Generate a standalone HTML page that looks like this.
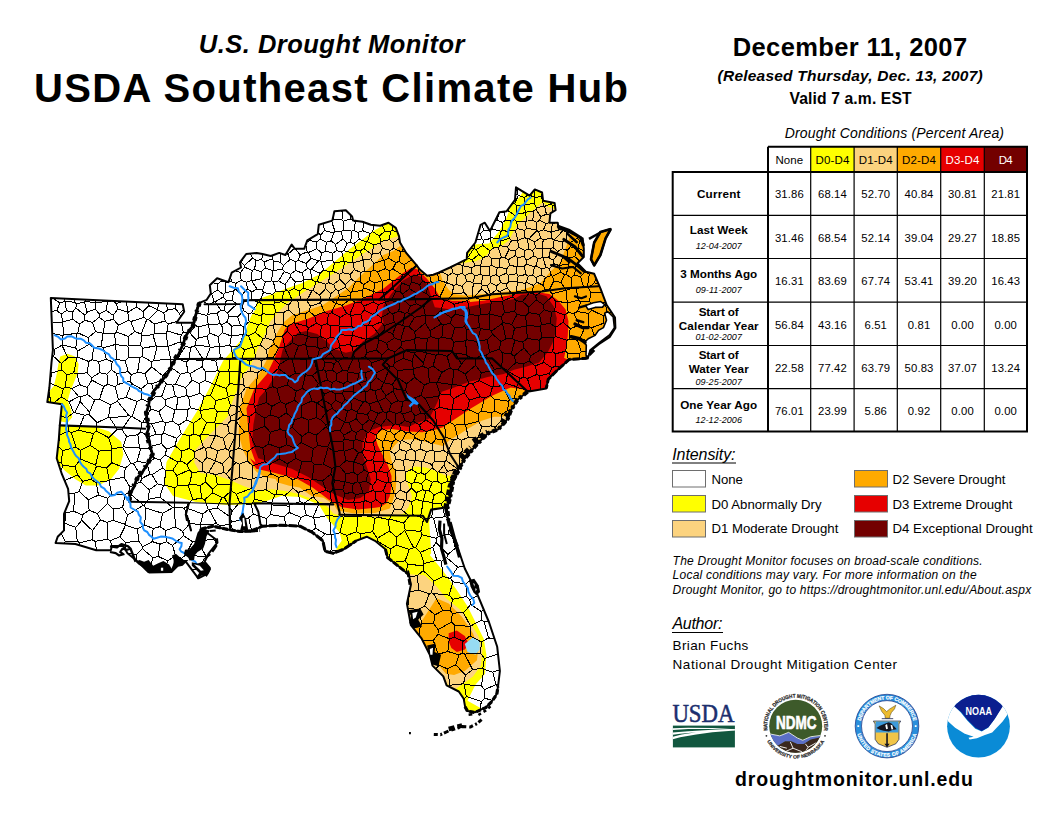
<!DOCTYPE html><html><head><meta charset="utf-8"><title>U.S. Drought Monitor - USDA Southeast Climate Hub</title>
<style>html,body{margin:0;padding:0;background:#fff;overflow:hidden}svg{display:block}text{font-family:"Liberation Sans",sans-serif;fill:#000}.b{font-weight:bold}.i{font-style:italic}</style></head><body>
<svg width="1056" height="816" viewBox="0 0 1056 816">
<rect width="1056" height="816" fill="#fff"/>
<defs><clipPath id="reg"><path d="M50.8 297.9 L182.7 304.2 L184.2 311.7 L176.5 322.7 L194.2 322.7 L196.2 313.3 L199.4 302.9 L206.7 299.8 L210.8 293.5 L209.8 285.2 L217.1 278.3 L228.5 282.1 L231.7 272.7 L241 267.5 L240 262.3 L246.2 254 L256.7 252.9 L262.5 254 L270.8 256 L279.2 252.9 L285.4 255 L291.7 244.6 L294.8 248.8 L304.2 248.8 L307.3 240.4 L317.7 234.2 L318.8 224.8 L332.3 220.6 L334.4 211.2 L345.8 210.2 L352.1 216.5 L353.1 220.6 L362.5 221.7 L370.8 224.8 L380.2 225.8 L388.5 222.7 L395.8 227.9 L399 236.2 L400 242.5 L406.2 252.9 L416.7 265.4 L419.8 269.6 L427.1 275.8 L433.3 274.8 L438.5 272.7 L450 267.5 L458.3 263.3 L466.7 259.2 L467.1 252.9 L475.4 242.5 L480.6 224.8 L484.8 222.7 L490 231 L499.4 212.3 L506.7 211.2 L515 199.8 L516 187.3 L529.6 195.6 L534.8 189.4 L542.1 192.5 L543.1 200.8 L554.6 202.9 L555.6 210.2 L550.4 213.3 L549.4 222.7 L557.7 222.7 L558.8 229 L565 230 L575.4 235.2 L582.7 238.3 L583.8 248.8 L583.8 257.1 L577.5 263.3 L585.8 271.7 L594.2 273.8 L600.4 288.3 L606.7 305 L615 317.5 L615.4 327.9 L609.9 336.8 L598.8 344.2 L589.6 351.5 L587.8 358.5 L569.2 359.4 L556.7 370.8 L548.3 379.2 L546.2 388.5 L527.5 391.7 L517.1 400 L510.8 410.4 L507.7 418.8 L498.3 429.2 L487.9 433.3 L475.4 445.8 L465 458.3 L458.8 468.8 L453.5 479.2 L450.4 495.8 L447.3 508.3 L445.8 507.5 L450 528.3 L458.3 549.2 L464.8 568.5 L475.6 590.1 L489.1 622.5 L497.2 646.8 L499.9 671 L498 686.6 L496.8 693.9 L491.9 701.3 L485.8 707.4 L474.8 712.3 L467.4 711.1 L465 706.2 L463.7 698.8 L458.8 691.5 L446.6 685.3 L443.3 676.4 L432.5 665.6 L429.8 654.8 L421.7 638.7 L410.9 625.2 L406.9 603.6 L410.9 584.7 L408.2 571.2 L408.3 574.2 L397.9 565.8 L387.5 557.5 L385.4 549.2 L375 540.8 L366.7 536.7 L356.2 540.8 L343.8 549.2 L333.3 553.3 L325 551.2 L322.9 540.8 L312.5 532.5 L300 526.2 L281.2 525.2 L262.5 526.2 L250 531.5 L240 531.5 L227.5 529.4 L212.9 526.2 L200.4 529.4 L206.7 532.5 L215 538.8 L217.1 542.9 L208.8 553.3 L204.6 561.7 L209.8 567.9 L206.7 574.2 L198.3 578.3 L185.8 561.7 L175.4 561.7 L171.2 572.1 L148.3 572.1 L137.9 561.7 L127.5 553.3 L123.3 546 L111.9 546 L110.8 550.2 L96.2 550.2 L75.4 544 L55.6 542.9 L57.7 536.7 L64 530.4 L64 513.8 L69.2 501.2 L68.1 488.8 L61.9 474.2 L56.7 458.3 L58.8 439.6 L59.8 425.4 L61.9 404.2 L47.3 402.1 L49.4 387.5 L51.5 362.5 L52.9 350Z M610.8 229 L600.4 232.1 L594.2 242.5 L591 259.2 L594.2 265.4 L600.4 255 L605.6 238.3Z"/></clipPath></defs>
<g clip-path="url(#reg)">
<rect x="30" y="170" width="620" height="580" fill="#fff"/>
<path d="M60.2 356.5 L67.6 353.8 L74.9 356.5 L78.6 363.9 L77.7 373.1 L74 382.3 L70.3 391.5 L67.6 400.7 L71.2 409.9 L72.2 417.2 L67.6 422.7 L58.4 420.9 L58.4 404.3 L46.4 403.4 L47.4 393.3 L53.8 386 L56.5 374.9 L58.4 363.9Z" fill="#FFFF00"/>
<path d="M54.6 426 L92.1 426 L108.8 431.2 L121.2 441.7 L123.3 454.2 L119.2 468.8 L110.8 479.2 L98.3 485.4 L85.8 485.4 L75.4 479.2 L65 470.8 L52.5 458.3 L52.5 439.6Z" fill="#FFFF00"/>
<path d="M388.5 222.7 L375 230 L350 248.8 L320 273.9 L302.3 283 L286.4 288.6 L268.2 295.5 L256.8 300 L255.7 309.1 L251.1 315.9 L247.7 325 L244.3 336.4 L236 346 L223 361 L209.5 388 L196.5 412 L181 437 L166.5 462 L164 483 L173 496 L196 502 L227.5 505 L250 504.4 L256.2 504.4 L281.2 496 L300 497 L318.8 504.4 L327 518 L339.6 532.5 L341.7 540.8 L336.5 548 L336 570 L400 730 L520 730 L467.5 700.7 L475.6 684.5 L485.1 673.7 L486.4 654.8 L483.7 638.7 L477 625.2 L467.5 606.3 L456.8 590.1 L443.3 571.2 L429.8 555.1 L431.2 553.3 L429.2 522.1 L431.2 509.6 L470 505 L640 400 L640 180 L500 180 L440 200 L395 215Z" fill="#FFFF00"/>
<path d="M514 186 L522.5 192.8 L517 200.3 L512 202.5Z" fill="#fff"/>
<path d="M473.3 244.6 L489 243.5 L499.4 231 L506.7 217.5 L511.9 202.9 L502.5 200.8 L481.7 217.5 L471.2 240.4Z" fill="#fff"/>
<path d="M399 236 L383.3 240.4 L358.3 257 L333.3 273.8 L306.2 290.4 L287.5 303 L277 313.3 L270 322 L267 330 L263.1 337.8 L257.3 349.6 L253.3 359.4 L249.4 367.3 L244.5 373.1 L239.6 381 L237.6 388.8 L233.7 398.6 L229.8 408.4 L228 416 L221.2 422.9 L206.7 437.5 L195.2 450 L194.2 462.5 L200.4 472.9 L217.2 475.5 L230.9 480.6 L242.9 485.8 L256.6 490.9 L272 489.2 L285.8 490.9 L299.5 494.3 L313.2 499.5 L323.5 503 L330.4 509.8 L333.3 513.5 L345 517 L383 517 L398 515 L403.5 513.8 L408.6 506.9 L412 496.6 L408.6 486.3 L405.2 476 L408.6 469.2 L415.5 466.6 L425.8 467.5 L436 470.9 L446.3 476 L458.3 474 L640 440 L640 180 L556.7 209.2 L548.3 207.1 L543.1 201.9 L537.9 206 L531.7 211.2 L523.3 219.6 L517.1 224.8 L508.8 240.4 L500.4 246.7 L492.1 248.8 L484.8 257.1 L475.4 261.2 L460.8 263.3 L440 250 L410 250Z" fill="#FCD37F"/>
<path d="M405.5 573.9 L424.4 575.3 L435.2 584.7 L446 598.2 L459.4 609 L470.2 622.5 L478.3 636 L482.4 649.4 L481 665.6 L472.9 676.4 L462.1 684.5 L454.1 689.9 L432.5 671 L397.4 627.9Z" fill="#FCD37F"/>
<path d="M400 246 L393.8 250.8 L383.3 255 L358.3 277.9 L348 288.3 L323 305 L291.7 315.4 L284 322 L278.8 330 L269 349.6 L267 359.4 L259.2 374.1 L246.5 388.8 L239.6 408.4 L239.5 417.2 L238.6 434.3 L242.9 449.7 L249.7 463.5 L256.6 472 L265.2 477.2 L275.5 478.9 L277.2 482.3 L289.2 485.8 L299.5 487.5 L311.5 496 L323.5 497.8 L333.8 504.6 L337.5 510.4 L354.2 513.5 L375 512.9 L389.7 508.6 L393.2 500 L395.7 489.8 L396.6 477.8 L394.9 469.2 L391.5 460.6 L389.7 452 L394.9 445.2 L400 440 L412 439.2 L422.3 440.9 L432.6 443.5 L442.9 446 L449.8 440 L458.4 434.9 L467.1 429.2 L481.7 420.8 L494.2 416.7 L502.5 416.7 L515 412.5 L640 420 L640 225 L577 228 L571 234 L566 247 L560 263 L551 271 L540 283.5 L523.3 289.4 L492.1 293.5 L465 295.6 L454 294 L449 289.9 L442.9 281.3 L440.5 273.9 L438 268 L410 255Z" fill="#FFAA00"/>
<path d="M436.5 598.2 L448.7 603.6 L462.1 617.1 L472.9 633.3 L478.3 646.8 L477 660.2 L464.8 671 L454.1 675.1 L446 673.7 L410.9 633.3 L419 625.2Z" fill="#FFAA00"/>
<path d="M610.8 229 L600.4 232.1 L594.2 242.5 L591 259.2 L594.2 265.4 L600.4 255 L605.6 238.3Z" fill="#FFAA00"/>
<path d="M273.9 359.4 L278.3 349.6 L284.7 330 L288.9 324.4 L307.9 318.7 L326.8 311.1 L345.8 305.5 L364.7 297.9 L383.6 288.4 L402.6 273.3 L412 267.6 L417.7 269.5 L427.2 278.9 L434.8 288.4 L440.5 297.9 L451.8 300.7 L470 300.7 L470 302 L484.7 300.6 L503.8 296.2 L521.5 293.2 L539.1 292.5 L549.4 294 L558.2 300.6 L565.6 309.4 L568.5 321.2 L567.8 335.9 L565.6 350.6 L564.1 358 L565 358.3 L573.3 362.5 L560.8 375 L552.5 391.7 L529.6 394.8 L523.3 389.6 L510.8 387.5 L492.1 395.8 L471.2 408.3 L463.5 413.4 L453.2 420.3 L442.9 427.2 L432.6 430.6 L422.3 432.3 L408.6 431.5 L391.5 428.9 L379.5 430.6 L375.2 436.6 L377.7 445.2 L382.9 455.5 L388 465.8 L391.5 476 L391.5 486.3 L389.7 496.6 L386.3 503.5 L380 507 L375 507.7 L358.3 509.4 L341.7 507.3 L329.2 500 L312.5 487.5 L297.9 479.2 L275 472.9 L256.2 468.8 L250 458.3 L255.6 462.5 L250.4 447.9 L248.3 429.2 L246.5 408.4 L254.3 388.8 L267 374Z" fill="#E60000"/>
<path d="M448.7 633.3 L456.8 630.6 L464.8 636 L468.9 644.1 L464.8 649.4 L456.8 652.1 L451.4 648.1 L448.7 641.4Z" fill="#E60000"/>
<path d="M253.4 424.5 L256.3 408.4 L259.2 397.6 L267 388.8 L272.9 379 L277.8 371.2 L280.3 359.4 L282.7 349.6 L288.6 342.7 L297.5 333 L306 331 L317.3 333.9 L326.8 341.4 L334.4 349 L345.8 352.8 L353.3 350.9 L362.8 341.4 L374.2 333.9 L383.6 322.5 L381.7 316.8 L383.6 305.5 L391.2 294.1 L402.6 280.8 L413.9 274.2 L421.5 277 L427.2 284.6 L431 296 L434.8 307.3 L449.9 309.2 L460 309 L470 306.5 L484.7 303.5 L503.8 300.6 L514.1 299.1 L521.5 294.7 L539.1 294 L546.5 296.2 L553.8 306.5 L556.8 318.2 L555.3 332.9 L552.4 343.2 L547.9 352.1 L539.1 362.4 L525.9 366.8 L514.1 369.7 L503.8 374.1 L487.6 377.1 L477.4 380 L470 381.5 L454.2 387.5 L441.7 391.7 L437.5 402.1 L429.2 418.8 L416.7 422.9 L408.3 427.1 L395.8 425 L379.2 427.1 L368.8 431.2 L362.5 441.7 L362.5 454.2 L366.7 466.7 L370.8 479.2 L368.8 491.7 L360.4 497.9 L347.9 500 L333.3 493.8 L320.8 485.4 L308.3 477.1 L291.7 468.8 L270.8 462.5 L258.3 458.3 L252.1 441.7Z" fill="#730000"/>
<path d="M464.8 644.1 L472.9 637.3 L479.7 641.4 L479.7 649.4 L475.6 654.8 L467.5 652.1Z" fill="#97DBF2"/>
<path d="M403.4 358.5L404.4 350.3M403.4 358.5L394.8 362.5M394.8 362.5L394.7 351.9M394.7 351.9L400.9 346.8M400.9 346.8L404.4 350.3M249.5 432.3L264.8 426.2M249.5 432.3L255.3 446.0M255.3 446.0L262.8 447.7M268.6 444.0L262.8 447.7M268.6 444.0L270.3 432.1M264.8 426.2L270.3 432.1M249.5 432.3L248.5 431.7M248.5 431.7L249.4 416.5M249.4 416.5L255.3 412.1M255.3 412.1L264.9 418.3M264.8 426.2L264.9 418.3M183.2 332.3L189.6 332.8M183.2 332.3L181.4 323.0M189.6 332.8L195.5 325.7M194.0 323.0L195.5 325.7M189.6 332.8L196.2 339.8M198.8 337.7L196.2 339.8M198.8 337.7L198.9 326.8M198.9 326.8L195.5 325.7M180.6 316.4L179.6 313.4M179.6 313.4L183.5 309.5M166.2 303.7L167.8 310.1M175.6 304.2L174.9 308.5M174.9 308.5L167.8 310.1M179.6 313.4L174.9 308.5M158.7 303.5L158.8 303.4M158.7 303.5L158.5 303.3M271.9 406.4L280.6 401.6M271.9 406.4L270.0 414.9M270.0 414.9L278.9 417.6M278.9 417.6L286.4 412.9M286.4 412.9L285.7 404.4M280.6 401.6L285.7 404.4M254.9 406.5L255.3 412.1M254.9 406.5L266.5 402.4M266.5 402.4L271.9 406.4M264.9 418.3L270.0 414.9M280.1 429.3L278.9 417.6M280.1 429.3L270.3 432.1M249.4 416.5L243.4 415.2M254.9 406.5L253.8 404.8M239.6 406.5L243.2 403.0M239.6 406.5L240.8 410.6M240.8 410.6L243.4 415.2M253.8 404.8L243.2 403.0M196.6 313.0L206.9 315.4M198.9 326.8L208.3 324.5M208.3 324.5L206.9 315.4M203.5 359.7L206.1 358.6M203.5 359.7L194.5 345.9M206.1 358.6L210.2 347.4M194.5 345.9L195.2 345.0M195.2 345.0L209.5 346.6M210.2 347.4L209.5 346.6M195.2 345.0L196.2 339.8M198.8 337.7L207.3 336.2M209.5 346.6L207.3 336.2M215.8 361.3L206.1 358.6M215.8 361.3L220.2 357.3M219.5 346.4L210.2 347.4M219.5 346.4L219.6 346.5M220.2 357.3L219.6 346.5M218.2 370.8L215.8 361.3M218.2 370.8L219.3 371.9M219.3 371.9L228.8 371.7M228.8 371.7L229.7 359.9M220.2 357.3L229.7 359.9M127.9 312.3L126.4 301.8M127.9 312.3L136.7 306.8M136.9 302.3L136.7 306.8M438.5 280.4L435.0 283.4M438.5 280.4L446.7 282.6M435.0 283.4L436.2 295.5M446.8 282.7L446.7 282.6M446.8 282.7L439.9 296.8M439.9 296.8L436.2 295.5M429.8 275.7L430.7 281.7M430.7 281.7L435.0 283.4M437.2 273.5L437.8 273.9M437.8 273.9L438.5 280.4M448.2 275.5L446.7 282.6M448.2 275.5L442.7 272.0M442.7 272.0L437.8 273.9M442.7 272.0L443.0 271.0M424.3 273.8L421.3 275.1M430.7 281.7L428.0 282.9M421.3 275.1L422.2 281.4M428.0 282.9L422.2 281.4M301.7 405.5L294.4 400.2M301.7 405.5L312.0 400.9M294.4 400.2L296.1 391.2M296.1 391.2L302.3 388.3M302.3 388.3L309.0 392.3M309.0 392.3L312.0 400.9M394.8 362.5L393.0 366.1M394.7 351.9L388.3 349.1M390.2 366.2L393.0 366.1M390.2 366.2L389.8 366.1M381.7 354.9L388.3 349.1M381.7 354.9L382.0 359.2M389.8 366.1L382.0 359.2M381.7 354.9L376.6 350.0M388.3 349.1L386.6 343.1M386.6 343.1L379.0 339.9M376.6 350.0L379.0 339.9M365.0 356.6L366.9 352.7M365.0 356.6L371.9 362.8M371.9 362.8L382.0 359.2M376.6 350.0L366.9 352.7M241.7 262.6L240.4 262.3M241.7 262.6L242.3 259.7M253.8 404.8L255.4 388.9M243.2 403.0L240.9 393.8M240.9 393.8L245.4 387.4M245.4 387.4L255.4 388.9M208.7 304.7L214.3 301.5M208.7 304.7L203.5 301.5M214.3 301.5L211.5 293.7M211.5 293.7L211.1 293.5M206.9 315.4L207.9 314.3M207.9 314.3L208.7 304.7M217.2 313.1L207.9 314.3M217.2 313.1L220.8 310.3M214.3 301.5L215.3 301.7M220.8 310.3L215.3 301.7M208.7 325.0L219.9 323.8M208.7 325.0L209.7 333.1M209.7 333.1L218.2 336.5M219.9 323.8L221.9 324.5M221.9 324.5L222.4 332.8M218.2 336.5L222.4 332.8M208.3 324.5L208.7 325.0M217.2 313.1L219.9 323.8M207.3 336.2L209.7 333.1M219.5 346.4L218.2 336.5M219.6 346.5L229.8 345.5M222.4 332.8L231.3 336.0M229.8 345.5L231.3 336.0M183.2 332.3L181.1 335.1M176.9 321.6L168.1 323.9M181.1 335.1L167.4 331.0M168.1 323.9L167.4 331.0M430.8 657.4L437.0 657.1M436.1 668.8L439.0 665.3M439.0 665.3L437.0 657.1M448.9 686.2L450.1 685.2M439.0 665.3L447.1 668.7M450.1 685.2L447.1 668.7M594.3 282.9L588.2 287.9M594.3 282.9L598.2 283.8M588.2 287.9L591.0 292.6M591.0 292.6L601.7 292.6M605.6 337.6L607.4 338.1M605.6 337.6L604.3 324.0M604.3 324.0L615.0 326.1M568.1 360.0L567.8 353.3M560.1 367.3L555.6 365.9M567.8 353.3L565.7 351.2M555.6 365.9L555.4 353.8M565.7 351.2L555.4 353.8M555.6 365.9L552.0 367.8M552.0 367.8L549.2 373.4M549.2 373.4L550.8 376.3M489.2 266.7L489.8 275.9M489.2 266.7L480.4 266.1M482.8 275.5L481.0 273.8M482.8 275.5L489.8 275.9M481.0 273.8L480.4 266.1M482.8 257.6L478.7 254.4M482.8 257.6L480.3 266.1M478.7 254.4L472.1 260.0M472.1 260.0L475.4 265.4M475.4 265.4L480.3 266.1M472.1 260.0L467.5 257.9M462.9 265.3L463.0 265.7M462.9 265.3L464.3 260.7M463.0 265.7L472.1 267.8M472.1 267.8L475.4 265.4M467.1 258.0L467.5 257.9M401.1 251.7L393.5 248.4M401.1 251.7L402.4 251.1M402.4 251.1L403.1 248.3M393.5 248.4L393.1 242.9M399.1 238.5L393.1 242.9M385.1 231.0L390.4 231.6M385.1 231.0L382.2 225.4M392.3 230.2L390.4 231.6M392.3 230.2L392.5 225.9M397.1 232.2L392.3 230.2M393.1 242.9L389.5 239.8M389.5 239.8L390.4 231.6M412.1 260.4L411.4 260.2M411.4 260.2L411.0 259.1M417.9 267.5L419.7 274.5M421.3 275.1L419.7 274.5M403.8 264.7L411.4 260.2M403.8 264.7L398.9 261.5M398.9 261.5L401.1 251.7M402.4 251.1L405.2 251.7M448.2 275.5L452.4 272.9M452.4 272.9L451.8 266.9M457.3 275.0L452.4 272.9M457.3 275.0L462.1 273.4M462.1 273.4L463.0 265.7M462.9 265.3L456.7 264.5M419.7 274.5L410.9 276.6M422.2 281.4L419.9 284.7M419.9 284.7L411.6 281.8M411.6 281.8L410.9 276.6M416.0 265.0L406.9 273.4M410.9 276.6L406.9 273.4M403.8 264.7L406.4 273.3M398.9 261.5L395.9 262.6M395.9 262.6L392.8 269.0M392.8 269.0L402.9 275.2M402.9 275.2L406.4 273.3M406.4 273.3L406.9 273.4M386.6 343.1L394.5 337.9M379.0 339.9L378.3 338.8M378.3 338.8L379.5 335.0M394.5 337.9L392.6 333.7M392.6 333.7L384.0 330.5M384.0 330.5L379.5 335.0M356.5 249.9L353.9 243.6M356.5 249.9L360.3 250.7M360.3 250.7L363.9 248.5M353.9 243.6L359.2 239.3M363.9 248.5L366.6 242.0M359.2 239.3L366.6 242.0M353.3 253.2L343.9 250.6M353.3 253.2L356.5 249.9M350.7 242.5L347.2 243.1M350.7 242.5L353.9 243.6M343.9 250.6L347.2 243.1M353.3 253.2L352.5 262.4M352.5 262.4L353.1 262.9M353.1 262.9L363.0 260.1M363.0 260.1L363.1 259.9M363.1 259.9L360.3 250.7M371.9 254.5L363.9 248.5M371.9 254.5L370.7 258.9M370.7 258.9L363.1 259.9M354.0 230.4L357.9 232.4M354.0 230.4L351.8 231.1M350.7 242.5L351.8 231.1M357.9 232.4L359.2 239.3M368.8 325.0L366.4 326.0M368.8 325.0L372.3 325.8M378.3 338.8L366.9 338.6M379.5 335.0L372.3 325.8M366.9 338.6L366.4 326.0M352.5 262.4L344.7 261.8M353.1 262.9L354.4 269.7M354.4 269.7L350.4 274.2M350.4 274.2L342.2 272.7M342.2 272.7L344.7 261.8M269.0 464.8L270.8 473.7M269.0 464.8L279.4 458.9M270.8 473.7L278.9 477.3M279.4 458.9L287.5 463.7M287.5 463.7L286.0 475.6M286.0 475.6L278.9 477.3M265.0 461.6L269.0 464.8M265.0 461.6L252.9 465.8M252.9 465.8L252.4 478.4M252.4 478.4L267.7 476.1M267.7 476.1L270.8 473.7M268.6 444.0L279.5 447.9M262.8 447.7L265.0 461.6M279.5 447.9L279.4 458.9M280.1 429.3L285.4 431.1M279.5 447.9L286.6 444.8M286.6 444.8L285.4 431.1M243.7 385.0L242.6 373.5M243.7 385.0L229.8 383.7M229.8 383.7L229.2 372.0M229.2 372.0L240.5 371.9M240.5 371.9L242.6 373.5M266.5 402.4L265.9 389.3M255.4 388.9L256.5 388.3M265.9 389.3L256.5 388.3M245.4 387.4L243.7 385.0M250.2 371.0L257.4 372.9M250.2 371.0L242.6 373.5M256.5 388.3L257.4 372.9M261.6 361.1L261.9 369.6M261.6 361.1L255.9 357.8M255.9 357.8L249.9 360.8M249.9 360.8L250.2 371.0M261.9 369.6L257.4 372.9M336.2 411.6L341.3 408.4M336.2 411.6L336.1 417.0M336.1 417.0L344.6 422.0M344.6 422.0L344.7 421.9M344.7 421.9L347.5 410.8M341.3 408.4L347.5 410.8M340.1 430.7L344.6 422.0M340.1 430.7L343.8 435.1M344.7 421.9L348.9 422.8M348.9 422.8L352.2 430.5M352.2 430.5L343.8 435.1M142.4 548.7L142.7 546.7M142.4 548.7L153.0 557.7M142.7 546.7L152.3 541.6M152.3 541.6L160.0 544.2M160.0 544.2L158.1 556.4M153.0 557.7L158.1 556.4M266.4 518.4L266.8 525.7M266.4 518.4L253.2 514.0M248.7 517.8L253.2 514.0M248.7 517.8L251.6 530.5M248.5 431.7L244.4 432.0M243.4 415.2L235.7 421.0M244.4 432.0L235.7 421.0M142.7 546.7L138.8 541.0M152.3 541.6L153.1 528.5M137.4 529.1L138.8 541.0M137.4 529.1L144.6 525.0M144.6 525.0L153.1 528.5M177.6 358.7L186.3 362.2M177.6 358.7L185.4 346.4M190.3 347.5L185.4 346.4M190.3 347.5L189.5 359.4M189.5 359.4L186.3 362.2M194.5 345.9L190.3 347.5M181.1 335.1L180.2 341.8M180.2 341.8L185.4 346.4M203.5 359.7L202.8 360.7M202.8 360.7L189.5 359.4M137.4 529.1L125.6 525.1M138.8 541.0L125.3 542.6M125.3 542.6L120.0 536.7M125.6 525.1L120.0 536.7M275.6 291.3L283.7 291.7M275.6 291.3L272.9 294.3M281.4 301.7L283.7 291.7M281.4 301.7L274.4 303.2M272.9 294.3L274.4 303.2M221.9 324.5L227.0 321.8M231.3 336.0L231.3 335.9M231.3 335.9L231.8 326.2M227.0 321.8L231.8 326.2M279.3 364.5L273.2 357.8M279.3 364.5L289.3 358.7M273.2 357.8L278.6 347.9M289.3 358.7L284.4 347.9M284.4 347.9L278.6 347.9M231.2 346.7L239.6 345.9M231.2 346.7L232.7 357.3M232.7 357.3L241.2 358.9M244.6 349.8L241.7 358.7M244.6 349.8L239.6 345.9M241.2 358.9L241.7 358.7M229.8 345.5L231.2 346.7M243.2 334.5L231.3 335.9M243.2 334.5L239.6 345.9M229.7 359.9L232.7 357.3M228.8 371.7L229.2 372.0M240.5 371.9L241.2 358.9M253.6 347.2L253.0 347.0M253.6 347.2L255.9 357.8M253.0 347.0L244.6 349.8M249.9 360.8L241.7 358.7M253.0 347.0L248.6 335.9M243.2 334.5L243.9 333.9M243.9 333.9L248.6 335.9M158.7 303.5L157.6 309.7M148.3 302.9L148.7 305.6M157.6 309.7L148.7 305.6M136.7 306.8L143.0 311.8M148.7 305.6L143.0 311.8M330.6 552.3L330.4 551.0M337.9 551.2L331.3 549.8M331.3 549.8L330.4 551.0M327.8 551.6L330.4 551.0M472.8 282.4L466.6 281.1M472.8 282.4L475.1 276.0M475.1 276.0L471.3 272.8M471.3 272.8L464.7 275.4M464.7 275.4L466.6 281.1M481.3 283.8L473.3 283.1M481.3 283.8L482.8 275.5M473.3 283.1L472.8 282.4M481.0 273.8L475.1 276.0M472.1 267.8L471.3 272.8M480.3 266.1L480.4 266.1M462.1 273.4L464.7 275.4M462.1 286.3L464.4 292.8M462.1 286.3L456.0 284.5M464.4 292.8L452.4 293.9M452.4 293.9L453.6 285.4M453.6 285.4L456.0 284.5M473.3 283.1L472.1 297.0M472.1 297.0L469.1 298.2M469.1 298.2L464.4 292.8M466.6 281.1L462.1 286.3M457.3 275.0L456.0 284.5M446.8 282.7L453.6 285.4M451.6 318.0L455.7 313.9M451.6 318.0L440.7 310.5M455.7 313.9L453.9 304.2M453.9 304.2L447.7 300.7M440.7 310.5L444.4 300.7M444.4 300.7L447.7 300.7M467.6 300.7L453.9 304.2M467.6 300.7L470.0 314.3M470.0 314.3L466.5 317.2M466.5 317.2L455.7 313.9M469.1 298.2L467.6 300.7M452.4 293.9L447.7 300.7M439.9 296.8L444.4 300.7M450.4 323.3L454.7 327.7M450.4 323.3L451.6 318.0M466.5 317.2L464.7 326.9M454.7 327.7L464.7 326.9M478.2 315.9L479.5 327.7M478.2 315.9L470.0 314.3M479.5 327.7L466.4 329.3M466.4 329.3L464.7 326.9M479.5 327.7L480.7 328.9M467.0 339.8L466.4 329.3M467.0 339.8L476.4 341.5M480.7 328.9L477.3 340.8M476.4 341.5L477.3 340.8M502.0 414.3L507.8 410.3M502.0 414.3L494.8 411.2M494.8 411.2L494.5 399.3M507.8 410.3L508.4 401.2M508.4 401.2L494.5 399.3M516.9 387.3L516.7 386.7M516.9 387.3L514.1 398.2M514.1 398.2L509.5 399.9M502.8 385.8L509.5 399.9M502.8 385.8L505.7 383.3M516.7 386.7L505.7 383.3M605.4 302.5L605.2 302.3M605.4 302.5L606.8 312.7M605.2 302.3L591.8 305.0M606.8 312.7L603.7 316.0M603.7 316.0L591.7 310.1M591.8 305.0L591.7 310.1M605.2 301.9L605.2 302.3M605.4 302.5L605.4 302.5M611.5 312.7L606.8 312.7M591.0 292.6L589.5 301.0M589.5 301.0L591.8 305.0M603.3 323.3L603.7 316.0M603.3 323.3L604.3 324.0M501.5 420.5L495.2 427.2M501.5 420.5L502.0 414.3M495.2 427.2L491.1 425.9M494.8 411.2L491.3 412.8M491.1 425.9L491.3 412.8M501.5 420.5L504.3 422.1M495.2 427.2L496.4 429.6M491.1 425.9L481.8 426.8M482.5 438.3L478.3 437.1M478.3 437.1L481.8 426.8M447.9 651.5L459.0 654.9M447.9 651.5L438.3 654.2M438.3 654.2L437.0 657.1M447.1 668.7L455.9 664.8M455.9 664.8L459.0 654.9M464.2 684.5L463.5 683.8M464.2 684.5L481.4 685.9M463.5 683.8L465.4 675.2M465.4 675.2L472.6 669.6M481.4 685.9L483.8 669.3M472.6 669.6L482.9 668.1M482.9 668.1L483.8 669.3M450.1 685.2L463.5 683.8M466.2 696.5L464.1 699.5M466.2 696.5L464.2 684.5M455.9 664.8L465.4 675.2M459.0 654.9L462.1 653.0M464.7 654.1L462.1 653.0M464.7 654.1L472.6 669.6M480.6 653.2L484.4 658.4M480.6 653.2L464.7 654.1M484.4 658.4L482.9 668.1M484.4 658.4L497.7 654.2M483.8 669.3L492.8 672.2M499.5 669.8L492.8 672.2M484.6 689.7L495.9 684.6M484.6 689.7L481.4 685.9M492.8 672.2L495.9 684.6M479.9 709.7L481.4 701.4M492.2 700.3L484.6 698.2M484.6 698.2L481.4 701.4M466.2 696.5L481.4 701.4M484.6 689.7L484.6 698.2M567.8 353.3L579.8 353.1M579.5 358.6L579.8 353.1M603.3 323.3L591.6 327.7M605.6 337.6L599.5 340.1M599.5 340.1L595.5 338.7M595.5 338.7L591.6 327.7M591.7 310.1L588.7 313.5M588.7 313.5L588.0 326.2M591.6 327.7L588.0 326.2M599.5 340.1L600.1 343.0M543.9 362.4L552.0 367.8M543.9 362.4L544.3 352.6M555.4 353.8L552.9 351.9M552.9 351.9L544.3 352.6M530.5 355.9L540.0 350.1M530.5 355.9L529.4 360.9M529.4 360.9L535.3 365.9M535.3 365.9L543.9 362.4M540.0 350.1L544.3 352.6M535.3 365.9L537.1 374.3M549.2 373.4L539.6 375.8M537.1 374.3L539.6 375.8M516.9 387.3L529.6 391.0M514.1 398.2L517.4 399.4M507.8 410.3L510.0 411.7M509.5 399.9L508.4 401.2M351.8 231.1L343.2 230.0M347.2 243.1L342.9 239.1M342.9 239.1L341.4 231.7M343.2 230.0L341.4 231.7M499.5 212.7L499.8 212.5M491.2 265.3L497.2 268.0M491.2 265.3L491.6 258.6M491.6 258.6L499.8 258.5M499.8 258.5L499.0 266.9M497.2 268.0L499.0 266.9M489.2 266.7L491.2 265.3M489.8 275.9L490.5 276.3M490.5 276.3L496.1 274.8M496.1 274.8L497.2 268.0M482.8 257.6L488.6 255.7M488.6 255.7L491.6 258.6M516.4 291.9L525.2 290.1M516.4 291.9L517.4 281.8M525.2 290.1L525.1 283.4M525.1 283.4L517.4 281.8M490.5 276.3L490.6 282.6M498.9 276.5L500.6 282.7M498.9 276.5L496.1 274.8M500.6 282.7L496.6 285.8M496.6 285.8L490.6 282.6M472.1 297.0L474.5 297.1M478.2 315.9L480.4 314.7M474.5 297.1L479.5 299.4M479.5 299.4L480.4 314.7M480.7 328.9L489.3 329.4M480.4 314.7L489.6 313.9M489.3 329.4L489.6 313.9M489.3 299.4L479.5 299.4M489.3 299.4L491.3 301.9M491.3 301.9L489.6 313.8M489.6 313.9L489.6 313.8M498.4 215.0L497.5 220.4M497.5 220.4L495.4 221.0M483.7 230.2L481.8 224.6M483.7 230.2L489.2 230.4M490.6 230.4L490.8 230.4M490.8 230.4L492.1 228.9M492.1 228.9L492.1 227.6M467.5 257.9L473.6 249.0M471.3 248.1L473.6 249.0M395.9 262.6L388.6 258.4M393.5 248.4L390.1 250.4M390.1 250.4L388.6 258.4M371.9 254.5L372.3 254.1M372.3 254.1L373.5 244.8M366.6 242.0L367.4 241.6M367.4 241.6L373.5 244.8M372.3 254.1L379.9 252.9M379.9 252.9L382.5 248.3M382.5 248.3L380.2 243.3M373.5 244.8L380.2 243.3M389.5 239.8L381.1 241.3M385.1 231.0L379.5 235.9M379.5 235.9L381.1 241.3M390.1 250.4L382.5 248.3M381.1 241.3L380.2 243.3M357.9 232.4L362.7 230.7M367.4 241.6L370.1 233.4M362.7 230.7L370.1 233.4M374.5 225.5L373.7 225.9M379.5 235.9L372.7 231.8M373.7 225.9L372.7 231.8M372.7 231.8L370.1 233.4M414.5 317.2L409.1 326.7M414.5 317.2L425.2 315.3M425.3 323.1L425.5 315.6M425.3 323.1L414.6 331.7M425.2 315.3L425.5 315.6M409.1 326.7L414.6 331.7M394.5 337.9L400.5 340.3M392.6 333.7L396.7 324.5M396.7 324.5L402.9 325.2M402.9 325.2L404.6 326.5M404.6 326.5L400.5 340.3M400.9 346.8L401.5 341.6M401.5 341.6L400.5 340.3M406.7 383.8L414.6 377.4M406.7 383.8L397.2 377.3M397.1 370.3L397.2 377.3M397.1 370.3L413.0 369.5M413.0 369.5L414.6 377.4M403.4 358.5L412.0 361.3M393.0 366.1L397.1 370.3M412.0 361.3L413.4 368.7M413.0 369.5L413.4 368.7M404.4 350.3L414.5 353.2M412.0 361.3L414.4 353.7M414.5 353.2L414.4 353.7M382.7 441.3L376.7 438.5M382.7 441.3L383.2 450.9M376.7 438.5L373.0 442.6M373.0 442.6L375.6 451.7M375.6 451.7L383.2 450.9M410.4 444.7L402.1 440.5M410.4 444.7L415.0 437.7M402.1 440.5L406.3 433.0M415.0 437.7L414.3 435.4M414.3 435.4L409.1 432.1M406.3 433.0L409.1 432.1M402.1 440.5L400.1 441.3M400.1 441.3L395.6 439.5M395.6 439.5L394.2 435.1M406.3 433.0L401.1 429.9M394.2 435.1L401.1 429.9M388.6 258.4L384.0 260.3M379.9 252.9L383.4 260.1M383.4 260.1L384.0 260.3M370.7 258.9L374.0 263.5M383.4 260.1L374.0 263.5M428.0 282.9L426.5 293.6M419.9 284.7L420.3 290.9M420.3 290.9L426.5 293.6M435.7 315.3L425.5 315.6M435.7 315.3L440.7 310.5M436.2 295.5L429.8 296.7M425.2 315.3L423.6 307.3M429.8 296.7L423.6 307.3M429.8 296.7L426.5 293.6M392.8 269.0L390.0 270.9M392.1 280.7L389.7 279.2M392.1 280.7L399.7 279.4M399.7 279.4L402.9 275.2M389.7 279.2L390.0 270.9M384.0 260.3L385.5 268.6M374.0 263.5L373.7 270.0M373.7 270.0L377.5 271.8M377.5 271.8L385.5 268.6M390.0 270.9L385.5 268.6M409.5 288.8L402.8 293.9M409.5 288.8L409.5 286.0M409.5 286.0L401.3 282.7M401.3 282.7L400.0 291.8M400.0 291.8L402.8 293.9M411.6 281.8L409.5 286.0M420.3 290.9L416.2 292.6M416.2 292.6L409.5 288.8M399.7 279.4L401.3 282.7M393.1 289.1L392.1 280.7M393.1 289.1L396.1 291.3M396.1 291.3L400.0 291.8M383.0 411.7L378.5 413.4M383.0 411.7L378.2 401.4M378.5 413.4L370.5 410.0M378.2 401.4L377.5 401.2M377.5 401.2L369.7 403.8M370.5 410.0L369.7 403.8M386.2 412.7L383.0 411.7M386.2 412.7L389.2 411.0M391.3 403.7L389.2 411.0M391.3 403.7L385.7 397.6M385.7 397.6L378.2 401.4M370.5 389.3L374.9 390.9M370.5 389.3L365.9 392.1M365.9 392.1L365.2 401.2M365.2 401.2L369.7 403.8M374.9 390.9L377.5 401.2M370.7 383.1L376.6 377.7M370.7 383.1L366.7 380.6M366.7 380.6L365.0 372.8M376.6 377.7L375.9 373.2M375.9 373.2L372.2 370.2M372.2 370.2L365.0 372.8M370.5 389.3L370.7 383.1M365.9 392.1L365.0 391.6M365.0 391.6L359.2 383.4M359.2 383.4L366.7 380.6M360.7 371.9L365.0 372.8M360.7 371.9L358.6 373.6M358.6 373.6L357.4 382.6M359.2 383.4L357.4 382.6M371.9 362.8L372.2 370.2M389.8 366.1L375.9 373.2M358.5 358.9L365.0 356.6M358.5 358.9L360.7 371.9M358.6 373.6L348.1 372.2M357.4 382.6L354.0 384.1M354.0 384.1L347.4 381.3M347.4 381.3L348.1 372.2M325.6 371.2L327.4 380.0M325.6 371.2L323.7 369.7M327.4 380.0L318.1 383.3M312.3 375.7L317.4 371.4M312.3 375.7L318.1 383.3M323.7 369.7L317.4 371.4M389.7 279.2L382.7 281.2M377.5 271.8L381.8 280.8M382.7 281.2L381.8 280.8M392.8 313.9L394.2 322.2M392.8 313.9L389.9 312.7M389.9 312.7L381.1 317.7M394.2 322.2L384.2 325.8M384.2 325.8L381.2 321.8M381.1 317.7L381.2 321.8M396.7 324.5L394.2 322.2M384.0 330.5L384.2 325.8M372.3 325.8L381.2 321.8M372.5 314.2L375.6 313.5M372.5 314.2L368.8 325.0M375.6 313.5L381.1 317.7M241.7 262.6L244.3 265.5M250.7 253.8L252.4 258.3M252.4 258.3L244.3 265.5M251.0 280.5L246.6 282.1M251.0 280.5L252.2 270.5M246.6 282.1L241.1 280.3M252.2 270.5L244.5 267.1M244.5 267.1L240.6 272.5M241.1 280.3L240.6 272.5M244.3 265.5L244.5 267.1M240.6 272.5L235.6 270.8M211.5 293.7L217.7 290.0M212.9 282.6L217.3 283.9M217.7 290.0L217.3 283.9M215.3 301.7L223.2 297.1M223.2 297.1L223.3 294.4M217.7 290.0L223.3 294.4M221.9 280.2L222.0 281.0M217.3 283.9L222.0 281.0M363.0 260.1L364.6 271.0M373.7 270.0L370.5 272.0M370.5 272.0L364.6 271.0M354.4 269.7L360.9 272.4M350.4 274.2L351.2 279.2M351.2 279.2L355.4 281.6M355.4 281.6L360.2 281.6M360.2 281.6L360.9 272.4M360.9 272.4L364.6 271.0M297.8 300.8L292.3 300.9M297.8 300.8L300.4 299.3M292.3 300.9L288.5 291.1M300.4 299.3L299.5 290.9M299.5 290.9L294.1 288.7M294.1 288.7L288.5 291.1M275.6 291.3L273.4 281.8M278.5 280.9L273.4 281.8M278.5 280.9L285.0 284.6M283.7 291.7L286.2 290.4M285.0 284.6L286.2 290.4M281.4 301.7L288.4 305.1M288.4 305.1L292.3 300.9M288.5 291.1L286.2 290.4M330.4 325.8L330.0 337.4M330.4 325.8L338.9 326.0M339.9 334.5L337.3 338.6M339.9 334.5L339.3 326.4M330.0 337.4L337.3 338.6M338.9 326.0L339.3 326.4M350.7 298.8L342.2 305.3M350.7 298.8L354.8 302.3M354.8 302.3L349.8 314.4M349.8 314.4L346.6 313.6M342.2 305.3L346.6 313.6M327.0 323.6L330.4 325.8M327.0 323.6L328.4 314.2M328.4 314.2L331.6 312.5M338.9 326.0L340.1 317.4M331.6 312.5L340.1 317.4M350.7 298.8L350.1 295.9M350.1 295.9L339.4 296.3M342.2 305.3L336.0 303.3M339.4 296.3L336.0 303.3M331.6 312.5L335.5 303.5M340.1 317.4L346.6 313.6M336.0 303.3L335.5 303.5M352.9 335.3L365.9 339.4M352.9 335.3L352.3 336.0M352.3 336.0L350.0 344.3M364.9 343.9L365.9 339.4M364.9 343.9L352.1 347.1M352.1 347.1L350.0 344.3M340.2 345.9L350.0 344.3M340.2 345.9L337.3 338.6M339.9 334.5L352.3 336.0M366.9 352.7L364.9 343.9M366.9 338.6L365.9 339.4M358.5 358.9L354.5 358.0M354.5 358.0L352.1 347.1M343.9 250.6L341.8 252.0M344.7 261.8L343.9 261.2M341.8 252.0L343.9 261.2M271.6 503.1L274.6 495.1M271.6 503.1L254.5 499.2M274.6 495.1L266.1 489.7M266.1 489.7L254.6 491.4M254.6 491.4L254.5 499.2M270.6 514.6L266.4 518.4M270.6 514.6L271.8 504.9M271.8 504.9L271.6 503.1M251.3 505.1L253.2 514.0M251.3 505.1L254.5 499.2M267.7 476.1L266.1 489.7M276.5 494.0L274.6 495.1M276.5 494.0L278.9 477.3M252.4 478.4L251.0 480.0M251.0 480.0L252.1 488.1M252.1 488.1L254.6 491.4M252.1 488.1L236.4 494.1M236.4 494.1L239.5 502.4M239.5 502.4L251.3 505.1M287.5 463.7L295.9 458.3M286.6 444.8L293.9 447.7M293.9 447.7L295.9 458.3M316.7 403.0L317.0 402.9M316.7 403.0L316.3 417.6M327.5 410.7L317.0 402.9M327.5 410.7L320.5 419.7M316.3 417.6L320.5 419.7M336.2 411.6L332.4 408.4M336.1 417.0L325.7 424.9M327.5 410.7L332.4 408.4M320.5 419.7L325.7 424.9M340.1 430.7L329.9 431.2M329.9 431.2L326.1 426.8M325.7 424.9L326.1 426.8M329.9 431.2L330.4 441.4M317.6 445.7L327.7 446.6M317.6 445.7L316.1 435.2M316.1 435.2L326.1 426.8M330.4 441.4L327.7 446.6M344.2 439.2L343.8 435.1M344.2 439.2L342.9 441.1M330.4 441.4L342.9 441.1M276.8 388.5L272.9 386.7M276.8 388.5L287.3 384.8M272.9 386.7L272.2 373.9M289.5 376.7L287.3 384.8M289.5 376.7L278.4 368.4M278.4 368.4L272.2 373.9M280.6 401.6L276.8 388.5M265.9 389.3L272.9 386.7M294.4 400.2L285.7 404.4M296.1 391.2L287.3 384.8M261.9 369.6L272.2 373.9M261.6 361.1L267.6 356.9M267.6 356.9L273.2 357.8M279.3 364.5L278.4 368.4M376.7 438.5L375.9 434.9M373.0 442.6L365.3 441.9M375.9 434.9L369.7 431.9M369.7 431.9L367.2 432.2M367.2 432.2L365.3 441.9M362.2 425.3L369.2 419.8M362.2 425.3L356.1 418.7M356.1 418.7L357.3 413.1M357.3 413.1L367.4 414.5M367.4 414.5L369.2 419.8M374.1 421.7L374.6 422.3M374.1 421.7L369.2 419.8M369.7 431.9L374.6 422.3M362.2 428.8L367.2 432.2M362.2 428.8L362.2 425.3M348.9 422.8L356.1 418.7M352.2 430.5L356.1 432.7M362.2 428.8L356.1 432.7M352.1 409.5L347.5 410.8M352.1 409.5L356.9 412.1M356.9 412.1L357.3 413.1M356.9 412.1L363.4 401.9M363.4 401.9L365.2 401.2M370.5 410.0L367.4 414.5M374.1 421.7L378.5 413.4M185.4 555.3L192.5 541.8M185.4 555.3L205.8 556.5M205.8 556.5L206.0 556.3M206.0 556.3L198.0 541.3M192.5 541.8L198.0 541.3M230.6 524.2L232.6 529.9M230.6 524.2L231.5 522.2M231.5 522.2L248.7 517.8M240.8 410.6L230.2 416.5M235.7 421.0L231.1 420.2M231.1 420.2L230.2 416.5M255.3 446.0L247.9 451.6M252.9 465.8L247.1 460.9M247.9 451.6L247.1 460.9M230.6 524.2L220.1 525.6M231.5 522.2L230.5 517.1M209.0 509.7L217.3 507.9M209.0 509.7L216.8 523.8M220.1 525.6L216.8 523.8M217.3 507.9L230.5 517.1M239.5 502.4L232.0 511.4M232.0 511.4L230.5 517.1M218.2 370.8L205.8 371.9M202.8 360.7L202.0 366.8M205.8 371.9L202.0 366.8M180.2 341.8L167.9 346.5M167.4 331.0L166.0 333.1M166.0 333.1L167.9 346.4M167.9 346.5L167.9 346.4M177.6 358.7L170.9 359.4M167.9 346.5L170.9 359.4M186.3 362.2L188.0 372.4M170.4 366.9L180.4 374.1M170.4 366.9L170.8 359.5M170.9 359.4L170.8 359.5M180.4 374.1L188.0 372.4M202.0 366.8L189.8 373.6M188.0 372.4L189.8 373.6M51.0 372.1L52.1 372.9M52.1 372.9L50.3 380.1M127.7 553.0L136.2 555.1M136.2 555.1L136.3 560.0M111.7 545.7L110.5 540.5M125.3 542.6L125.6 549.3M120.0 536.7L110.5 540.5M142.4 548.7L136.2 555.1M148.9 570.2L153.0 557.7M148.9 570.2L147.4 570.8M273.7 304.3L262.7 304.9M273.7 304.3L275.7 312.0M275.7 312.0L274.2 314.9M274.2 314.9L262.6 313.8M262.6 313.8L262.7 304.9M288.4 309.8L288.4 305.1M288.4 309.8L283.8 312.4M274.4 303.2L273.7 304.3M283.8 312.4L275.7 312.0M283.8 325.1L274.7 323.9M283.8 325.1L283.8 312.4M274.7 323.9L274.2 314.9M261.0 323.5L267.3 326.3M261.0 323.5L261.1 316.0M274.7 323.9L273.1 325.2M267.3 326.3L273.1 325.2M261.1 316.0L262.6 313.8M251.9 292.1L251.9 299.8M251.9 292.1L256.8 288.9M256.8 288.9L262.5 290.1M251.9 299.8L258.4 302.0M263.4 292.5L259.6 302.0M263.4 292.5L262.5 290.1M258.4 302.0L259.6 302.0M251.0 280.5L251.8 280.8M246.6 282.1L247.4 288.8M251.8 280.8L256.8 288.9M247.4 288.8L251.9 292.1M272.9 294.3L263.4 292.5M262.7 304.9L259.6 302.0M251.4 312.8L258.4 302.0M251.4 312.8L261.1 316.0M306.7 359.4L293.7 358.6M306.7 359.4L305.8 374.9M295.4 373.0L305.3 375.2M295.4 373.0L292.0 359.3M292.0 359.3L293.7 358.6M305.3 375.2L305.8 374.9M305.3 344.3L298.4 345.7M305.3 344.3L306.4 346.2M298.4 345.7L293.7 358.6M306.4 346.2L308.5 357.8M308.5 357.8L306.7 359.4M312.3 375.7L305.8 374.9M317.4 371.4L313.6 358.1M308.5 357.8L313.6 358.1M302.3 388.3L305.3 375.2M289.5 376.7L295.4 373.0M289.3 358.7L292.0 359.3M309.0 392.3L317.9 385.7M317.9 385.7L318.1 383.3M305.3 344.3L307.5 336.9M306.4 346.2L317.9 347.2M317.9 347.2L317.8 337.4M307.5 336.9L317.8 337.4M327.0 323.6L321.4 325.7M330.0 337.4L326.6 339.1M326.6 339.1L320.1 336.4M320.1 336.4L321.4 325.7M328.4 314.2L324.4 312.0M324.4 312.0L314.7 315.8M314.7 315.8L316.4 323.4M321.4 325.7L316.4 323.4M297.8 300.8L299.9 313.9M288.4 309.8L295.6 316.1M295.6 316.1L299.9 313.9M283.8 325.1L287.3 326.9M295.6 316.1L293.8 322.6M287.3 326.9L293.8 322.6M274.2 344.1L273.2 340.4M274.2 344.1L266.2 349.8M273.2 340.4L265.5 337.8M260.1 344.9L263.2 339.0M260.1 344.9L266.2 349.8M263.2 339.0L265.5 337.8M267.6 356.9L266.2 349.8M278.6 347.9L274.2 344.1M267.3 326.3L265.5 337.8M273.1 325.2L275.9 337.0M275.9 337.0L273.2 340.4M253.6 347.2L260.1 344.9M248.6 335.9L255.3 332.5M255.3 332.5L263.2 339.0M261.0 323.5L258.4 324.8M258.4 324.8L255.3 332.5M154.0 324.1L165.1 321.0M154.0 324.1L148.7 319.6M148.7 319.6L157.7 310.0M165.1 321.0L163.9 313.0M163.9 313.0L157.7 310.0M154.4 333.3L154.0 324.1M154.4 333.3L166.0 333.1M168.1 323.9L165.1 321.0M157.6 309.7L157.7 310.0M143.0 311.8L144.1 317.4M144.1 317.4L146.8 319.4M146.8 319.4L148.7 319.6M167.8 310.1L163.9 313.0M107.9 301.4L110.5 301.1M107.9 301.4L107.8 300.9M121.4 301.6L116.5 303.8M116.5 303.8L113.1 301.2M95.9 300.4L95.9 302.4M107.9 301.4L107.6 301.7M107.6 301.7L95.9 302.4M153.0 334.9L154.4 333.3M153.0 334.9L142.0 335.3M146.8 319.4L141.1 334.1M142.0 335.3L141.1 334.1M95.9 302.4L95.4 302.9M95.4 302.9L85.1 301.2M85.1 301.2L85.1 299.8M61.3 363.5L53.8 356.6M61.3 363.5L67.9 357.8M67.9 357.8L61.9 345.1M53.8 356.6L54.7 349.4M54.7 349.4L61.9 345.1M52.4 357.3L53.8 356.6M61.5 369.9L52.1 372.9M61.5 369.9L61.3 363.5M53.1 348.4L54.7 349.4M466.4 596.5L469.7 599.7M466.4 596.5L465.9 584.2M469.7 599.7L477.6 595.7M465.9 584.2L470.3 580.1M424.0 563.4L436.9 560.3M424.0 563.4L420.4 552.3M420.4 552.3L432.8 547.2M436.9 560.3L432.8 547.2M424.0 563.4L423.0 565.7M423.0 565.7L407.9 564.3M415.5 547.7L420.4 552.3M415.5 547.7L413.7 547.8M413.7 547.8L409.3 549.4M409.3 549.4L405.2 560.8M405.2 560.8L407.9 564.3M450.3 610.6L452.6 599.4M450.3 610.6L442.9 610.5M452.6 599.4L449.3 595.1M442.9 610.5L433.5 593.6M449.3 595.1L433.5 593.6M466.4 596.5L452.6 599.4M465.9 584.2L452.8 581.7M449.3 595.1L452.8 581.7M438.3 654.2L433.3 640.5M423.1 640.8L433.3 640.5M410.9 623.5L420.4 625.6M419.1 634.9L420.4 625.6M449.3 638.7L438.0 634.3M449.3 638.7L447.9 651.5M433.3 640.5L438.0 634.3M516.7 386.7L520.4 378.5M531.1 390.8L527.4 378.5M527.4 378.5L523.8 377.1M523.8 377.1L520.4 378.5M529.4 360.9L523.6 363.9M527.4 378.5L537.1 374.3M523.8 377.1L523.6 363.9M505.7 383.3L508.0 371.4M520.4 378.5L508.0 371.4M589.5 301.0L580.8 302.0M588.7 313.5L577.4 311.6M577.4 311.6L580.8 302.0M286.0 475.6L292.8 479.7M292.8 479.7L297.6 477.8M295.9 458.3L301.9 461.7M297.6 477.8L301.9 461.7M293.9 447.7L301.2 442.5M301.2 442.5L313.2 448.8M313.2 448.8L311.3 461.3M301.9 461.7L311.3 461.3M276.5 494.0L285.2 495.3M292.8 479.7L292.9 488.4M285.2 495.3L292.9 488.4M270.6 514.6L283.9 516.9M283.9 516.9L286.0 525.2M457.8 548.8L455.4 548.2M455.4 548.2L452.5 536.8M453.0 536.6L452.5 536.8M458.6 468.6L458.1 468.8M458.1 468.8L457.3 471.0M478.3 437.1L477.1 438.1M477.1 438.1L477.6 443.2M469.7 599.7L470.7 604.5M483.4 609.7L481.3 611.6M481.3 611.6L470.7 604.5M495.9 684.6L496.6 684.8M497.5 687.5L496.6 684.8M498.0 684.5L496.6 684.8M579.8 353.1L581.3 351.7M589.1 352.2L588.5 351.6M581.3 351.7L588.5 351.6M595.5 338.7L591.0 342.4M588.5 351.6L591.0 342.4M569.2 339.0L570.1 328.7M569.2 339.0L577.4 340.2M577.4 340.2L580.1 338.2M580.1 338.2L585.0 327.1M570.1 328.7L579.6 325.0M579.6 325.0L585.0 327.1M565.7 351.2L567.1 340.3M567.1 340.3L569.2 339.0M581.3 351.7L577.4 340.2M591.0 342.4L580.1 338.2M588.0 326.2L585.0 327.1M577.4 311.6L573.6 313.5M573.6 313.5L579.6 325.0M552.9 351.9L553.6 337.9M540.0 350.1L539.1 340.2M539.1 340.2L541.7 337.6M541.7 337.6L553.6 337.9M567.1 340.3L555.6 336.5M563.3 322.1L570.1 328.7M563.3 322.1L556.0 327.2M556.0 327.2L555.6 336.5M555.6 336.5L553.6 337.9M580.6 276.7L583.4 286.6M580.6 276.7L584.7 271.9M589.3 274.1L584.7 271.9M589.3 274.1L587.4 287.4M587.4 287.4L583.4 286.6M577.9 248.4L583.5 250.4M577.9 248.4L579.7 241.2M579.7 241.2L582.7 241.4M539.6 375.8L540.9 389.1M332.8 219.8L333.6 219.1M333.6 219.1L333.4 217.0M342.9 239.1L335.4 244.5M341.8 252.0L336.7 250.6M335.4 244.5L336.7 250.6M498.1 247.7L500.2 245.5M498.1 247.7L501.6 257.2M500.2 245.5L507.4 247.2M501.6 257.2L505.0 257.5M505.0 257.5L508.9 249.8M507.4 247.2L508.9 249.8M493.5 248.0L498.1 247.7M493.5 248.0L489.7 250.7M489.7 250.7L488.6 255.7M499.8 258.5L501.6 257.2M525.1 283.4L526.5 282.2M526.5 282.2L528.2 276.2M517.4 281.8L517.2 281.6M518.2 276.1L517.2 281.6M518.2 276.1L525.9 274.5M528.2 276.2L525.9 274.5M518.1 240.3L515.2 230.7M518.1 240.3L524.6 237.6M515.2 230.7L517.4 228.5M517.4 228.5L524.8 230.5M524.6 237.6L524.8 230.5M525.6 222.0L516.8 221.7M525.6 222.0L526.3 228.6M517.4 228.5L516.8 221.7M526.3 228.6L524.8 230.5M511.7 240.5L517.7 240.8M511.7 240.5L507.4 247.2M517.7 240.8L518.6 247.4M508.9 249.8L515.2 250.9M518.6 247.4L515.2 250.9M507.9 259.9L505.0 257.5M507.9 259.9L515.4 255.5M515.2 250.9L515.4 255.5M507.7 231.5L509.3 238.4M507.7 231.5L502.5 230.3M500.9 231.3L502.5 230.3M500.9 231.3L499.2 238.6M509.3 238.4L500.5 241.1M499.2 238.6L500.5 241.1M511.7 240.5L509.3 238.4M518.1 240.3L517.7 240.8M509.4 230.5L515.2 230.7M509.4 230.5L507.7 231.5M497.5 220.4L502.4 222.4M502.4 222.4L502.5 230.3M492.1 228.9L500.9 231.3M490.5 237.8L499.2 238.6M490.5 237.8L490.8 230.4M500.2 245.5L500.5 241.1M493.5 248.0L489.8 238.7M490.5 237.8L489.8 238.7M527.1 220.0L525.1 212.7M527.1 220.0L532.9 220.2M525.1 212.7L525.4 212.3M532.9 220.2L533.5 211.1M525.4 212.3L533.5 211.1M525.1 212.7L517.1 214.2M516.2 205.2L517.1 214.2M516.2 205.2L524.4 205.5M525.4 212.3L524.4 205.5M524.2 197.5L518.4 195.5M524.2 197.5L525.1 204.4M518.4 195.5L514.5 203.7M514.5 203.7L516.2 205.2M525.1 204.4L524.4 205.5M490.0 295.6L481.3 288.8M490.0 295.6L490.5 294.4M490.5 294.4L487.2 285.5M487.2 285.5L482.3 285.2M482.3 285.2L481.3 288.8M474.5 297.1L481.3 288.8M489.3 299.4L490.0 295.6M496.4 289.8L496.6 285.8M496.4 289.8L490.5 294.4M490.6 282.6L487.2 285.5M481.3 283.8L482.3 285.2M506.5 273.1L508.2 275.2M506.5 273.1L506.6 268.8M508.2 275.2L516.6 273.7M506.6 268.8L509.7 265.3M509.7 265.3L516.6 266.6M516.6 266.6L516.6 273.7M498.9 276.5L506.5 273.1M500.6 282.7L506.5 284.2M506.5 284.2L508.9 281.3M508.9 281.3L508.2 275.2M499.0 266.9L506.6 268.8M508.9 281.3L517.2 281.6M518.2 276.1L516.6 273.7M507.9 259.9L509.7 265.3M483.7 230.2L480.5 233.9M478.5 233.1L480.5 233.9M362.7 230.7L363.6 222.4M373.7 225.9L373.1 225.3M354.0 230.4L355.4 222.1M355.4 222.1L356.9 221.4M401.5 341.6L414.2 339.5M414.5 353.2L416.4 351.5M416.4 351.5L414.2 339.5M409.1 326.7L404.6 326.5M414.6 331.7L415.5 337.7M414.2 339.5L415.5 337.7M489.8 352.4L487.1 339.8M489.8 352.4L486.1 355.3M487.1 339.8L477.3 340.8M476.4 341.5L481.0 355.2M481.0 355.2L486.1 355.3M458.0 369.9L461.4 364.1M458.0 369.9L465.3 374.0M465.3 374.0L475.6 365.4M461.4 364.1L468.1 356.6M468.1 356.6L476.0 358.9M476.0 358.9L475.6 365.4M455.6 353.5L466.2 354.4M455.6 353.5L461.4 364.1M466.2 354.4L468.1 356.6M467.0 339.8L465.9 340.8M465.9 340.8L466.2 354.4M481.0 355.2L476.0 358.9M440.0 393.9L450.3 394.9M440.0 393.9L436.5 383.0M436.5 383.0L437.2 382.4M437.2 382.4L451.5 384.6M451.5 384.6L450.3 394.9M453.9 370.0L450.2 367.9M453.9 370.0L452.3 384.0M441.9 372.4L450.2 367.9M441.9 372.4L437.2 382.4M452.3 384.0L451.5 384.6M353.9 461.9L362.7 465.1M353.9 461.9L353.4 472.1M357.3 475.2L353.4 472.1M357.3 475.2L364.2 470.2M364.2 470.2L362.7 465.1M410.6 422.7L409.1 432.1M410.6 422.7L404.8 420.5M401.1 429.9L399.3 424.6M404.8 420.5L399.3 424.6M411.3 411.2L402.6 414.1M411.3 411.2L411.4 398.4M403.0 401.5L400.8 412.6M403.0 401.5L409.6 397.9M402.6 414.1L400.8 412.6M411.4 398.4L409.6 397.9M415.2 415.8L413.4 421.3M415.2 415.8L411.3 411.2M413.4 421.3L410.6 422.7M404.8 420.5L402.6 414.1M391.3 403.7L397.9 400.8M389.2 411.0L396.0 413.4M397.9 400.8L403.0 401.5M396.0 413.4L400.8 412.6M396.0 413.4L395.3 423.9M395.3 423.9L399.3 424.6M387.2 431.3L389.9 431.0M387.2 431.3L382.0 428.6M389.9 431.0L393.6 424.4M393.6 424.4L386.4 418.3M386.4 418.3L381.0 425.6M382.0 428.6L381.0 425.6M384.4 440.2L387.2 431.3M384.4 440.2L392.6 441.7M392.6 441.7L395.6 439.5M394.2 435.1L389.9 431.0M382.7 441.3L384.4 440.2M375.9 434.9L382.0 428.6M395.3 423.9L393.6 424.4M386.2 412.7L386.4 418.3M374.6 422.3L381.0 425.6M402.9 325.2L404.6 313.4M392.8 313.9L398.9 310.9M398.9 310.9L404.6 313.4M414.5 317.2L407.7 312.6M407.7 312.6L404.6 313.4M381.0 388.7L386.1 395.8M381.0 388.7L383.7 382.7M383.9 382.7L392.4 384.4M383.9 382.7L383.7 382.7M386.1 395.8L393.0 390.9M392.4 384.4L393.9 388.6M393.9 388.6L393.0 390.9M374.9 390.9L381.0 388.7M385.7 397.6L386.1 395.8M376.6 377.7L383.7 382.7M390.2 366.2L383.9 382.7M397.2 377.3L392.4 384.4M397.9 400.8L393.0 390.9M406.7 383.8L405.7 390.4M405.7 390.4L393.9 388.6M405.7 390.4L409.6 397.9M354.0 392.9L353.2 391.7M354.0 392.9L353.8 398.3M353.2 391.7L343.4 391.5M353.8 398.3L350.6 400.9M350.6 400.9L345.1 399.8M345.1 399.8L342.2 393.2M343.4 391.5L342.2 393.2M365.0 391.6L354.0 392.9M354.0 384.1L353.2 391.7M363.4 401.9L353.8 398.3M343.6 383.5L347.4 381.3M343.6 383.5L343.4 391.5M352.1 409.5L350.6 400.9M341.3 408.4L342.1 403.4M342.1 403.4L345.1 399.8M354.5 358.0L352.9 358.8M340.2 345.9L339.5 347.2M339.5 347.2L343.5 357.4M352.9 358.8L343.5 357.4M348.1 372.2L347.4 371.1M352.9 358.8L347.4 371.1M393.1 289.1L383.5 293.2M382.7 281.2L383.0 292.7M383.5 293.2L383.0 292.7M391.2 300.5L396.1 291.3M391.2 300.5L385.2 301.9M383.5 293.2L385.2 301.9M391.2 300.5L399.6 302.8M389.9 312.7L385.2 302.0M399.6 302.8L398.9 310.9M385.2 301.9L385.2 302.0M375.6 313.5L378.5 304.6M385.2 302.0L378.5 304.6M372.5 314.2L364.3 310.1M364.3 310.1L363.9 306.1M363.9 306.1L373.6 302.1M373.6 302.1L378.5 304.6M363.9 306.1L361.3 302.8M361.3 302.8L363.1 297.4M373.6 302.1L372.2 296.3M363.1 297.4L372.2 296.3M351.5 292.0L362.0 290.4M351.5 292.0L350.5 292.5M350.1 295.9L350.5 292.5M361.3 302.8L354.8 302.3M363.1 297.4L362.0 290.4M383.0 292.7L373.9 291.9M372.2 296.3L373.9 291.9M284.2 271.5L282.7 269.5M284.2 271.5L278.5 280.9M273.4 281.8L271.7 280.8M273.1 270.3L282.7 269.5M273.1 270.3L272.6 270.6M272.6 270.6L271.7 280.8M251.8 280.8L261.6 278.7M262.5 290.1L265.5 282.1M261.6 278.7L265.5 282.1M271.7 280.8L265.5 282.1M256.2 260.4L254.4 269.6M256.2 260.4L261.7 259.6M261.7 259.6L264.2 261.8M264.2 261.8L265.3 268.0M265.3 268.0L261.2 271.7M254.4 269.6L261.2 271.7M252.4 258.3L256.2 260.4M252.2 270.5L254.4 269.6M262.6 254.3L261.7 259.6M272.6 270.6L265.3 268.0M261.6 278.7L261.2 271.7M223.3 294.4L225.2 292.6M222.0 281.0L225.9 282.5M225.2 292.6L225.9 282.5M241.1 280.3L235.8 283.5M230.7 276.5L231.5 281.7M235.8 283.5L231.5 281.7M231.5 281.7L228.8 282.1M227.9 282.2L225.9 282.5M333.6 284.4L339.8 279.4M333.6 284.4L335.8 289.5M335.8 289.5L338.5 290.6M338.5 290.6L345.3 287.4M339.8 279.4L345.2 284.5M345.2 284.5L345.3 287.4M325.7 284.3L328.6 282.7M325.7 284.3L325.7 288.5M328.6 282.7L333.6 284.4M325.7 288.5L330.5 293.8M330.5 293.8L335.8 289.5M339.4 296.3L338.5 290.6M335.5 303.5L329.6 299.3M330.5 293.8L329.6 299.3M350.5 292.5L345.3 287.4M351.2 279.2L345.2 284.5M342.2 272.7L339.5 274.2M339.5 274.2L339.8 279.4M351.5 292.0L355.4 281.6M360.8 314.3L350.9 315.4M360.8 314.3L363.8 324.9M350.9 315.4L351.7 326.2M363.8 324.9L353.2 327.9M353.2 327.9L351.7 326.2M364.3 310.1L360.8 314.3M349.8 314.4L350.9 315.4M366.4 326.0L363.8 324.9M339.3 326.4L351.7 326.2M352.9 335.3L353.2 327.9M321.7 300.3L319.5 295.2M321.7 300.3L320.4 302.7M320.4 302.7L310.5 306.2M319.5 295.2L313.1 290.5M313.1 290.5L311.8 291.1M311.8 291.1L306.8 300.6M306.8 300.6L310.5 306.2M325.7 288.5L319.5 295.2M329.6 299.3L321.7 300.3M324.4 312.0L320.4 302.7M309.2 311.5L314.7 315.8M309.2 311.5L310.5 306.2M325.7 284.3L317.0 281.5M316.0 282.0L317.0 281.5M316.0 282.0L313.1 290.5M300.4 299.3L306.8 300.6M299.5 290.9L303.6 288.1M303.6 288.1L311.8 291.1M309.2 311.5L305.2 313.7M299.9 313.9L305.2 313.7M316.0 282.0L311.6 279.5M317.0 281.5L320.2 273.3M311.4 269.4L320.2 273.3M311.4 269.4L310.6 269.6M310.6 269.6L311.6 279.5M328.6 282.7L330.0 271.9M320.2 273.3L323.8 270.0M323.8 270.0L330.0 271.9M339.5 274.2L332.5 271.1M330.0 271.9L332.5 271.1M343.9 261.2L334.5 263.2M332.5 271.1L334.5 263.2M302.1 436.6L292.0 427.3M302.1 436.6L308.1 432.0M308.1 432.0L308.6 420.1M294.7 420.0L301.7 417.3M294.7 420.0L292.0 427.3M301.7 417.3L308.6 420.1M285.4 431.1L292.0 427.3M301.2 442.5L302.1 436.6M317.6 445.7L313.2 448.8M316.1 435.2L308.1 432.0M316.3 417.6L308.6 420.1M301.7 405.5L301.7 417.3M286.4 412.9L294.7 420.0M316.7 403.0L312.0 400.9M322.6 399.3L331.2 404.8M322.6 399.3L324.6 394.4M324.6 394.4L331.1 391.1M331.2 404.8L335.3 400.4M335.3 400.4L335.6 393.8M331.1 391.1L335.6 393.8M332.4 408.4L331.2 404.8M317.0 402.9L322.6 399.3M317.9 385.7L324.6 394.4M332.2 382.6L327.4 380.0M332.2 382.6L331.1 391.1M342.1 403.4L335.3 400.4M342.2 393.2L335.6 393.8M332.2 382.6L335.9 380.7M335.9 380.7L343.6 383.5M160.0 544.2L166.5 541.8M153.1 528.5L159.9 526.6M166.5 541.8L165.6 530.5M159.9 526.6L165.6 530.5M182.8 531.3L175.4 526.9M182.8 531.3L183.6 535.6M183.6 535.6L172.6 545.5M166.5 541.8L172.6 545.5M165.6 530.5L175.4 526.9M213.7 539.4L198.5 540.7M213.7 539.4L213.8 538.3M198.5 540.7L201.2 530.1M220.1 525.6L218.9 527.2M216.8 523.8L200.6 525.0M200.6 525.0L201.1 528.9M206.9 556.4L206.0 556.3M205.8 556.5L197.6 568.8M204.0 575.2L197.6 568.8M213.7 539.4L216.4 543.3M198.0 541.3L198.5 540.7M240.0 434.9L236.0 434.9M240.0 434.9L238.9 448.4M236.0 434.9L228.4 450.2M238.9 448.4L229.6 451.3M228.4 450.2L229.6 451.3M244.4 432.0L240.0 434.9M229.2 433.0L236.0 434.9M229.2 433.0L227.6 424.2M231.1 420.2L227.6 424.2M247.9 451.6L238.9 448.4M229.2 433.0L223.4 438.3M228.4 450.2L225.8 448.6M225.8 448.6L223.4 438.3M227.6 424.2L215.7 423.7M215.7 423.7L216.0 435.4M223.4 438.3L216.0 435.4M194.5 457.4L187.1 464.4M194.5 457.4L202.3 463.1M187.1 464.4L189.2 469.8M202.3 463.1L203.0 471.0M203.0 471.0L192.1 472.7M192.1 472.7L189.2 469.8M189.5 484.2L188.2 485.5M189.5 484.2L200.3 485.4M188.2 485.5L192.8 499.3M192.8 499.3L201.5 498.6M201.5 498.6L200.3 485.4M142.6 348.3L142.0 356.3M142.6 348.3L156.1 345.8M142.0 356.3L151.7 361.9M156.1 345.8L157.1 346.5M157.1 346.5L153.8 360.3M151.7 361.9L153.8 360.3M153.0 334.9L156.1 345.8M142.0 335.3L140.6 345.0M140.6 345.0L142.6 348.3M167.9 346.4L157.1 346.5M170.8 359.5L153.8 360.3M170.4 366.9L162.9 375.9M162.9 375.9L151.8 366.9M151.8 366.9L151.7 361.9M151.8 366.9L144.9 373.6M139.8 357.6L137.6 372.3M139.8 357.6L142.0 356.3M144.9 373.6L137.6 372.3M68.9 431.2L66.8 418.0M68.9 431.2L59.7 434.9M59.7 434.9L59.4 434.8M61.0 416.5L61.6 416.2M61.6 416.2L66.8 418.0M51.6 402.4L54.4 402.4M61.6 416.2L61.1 415.2M54.7 402.9L54.4 402.4M50.1 383.2L63.2 388.8M49.1 391.9L50.8 402.3M63.2 388.8L61.3 396.8M54.4 402.4L61.3 396.8M61.5 369.9L67.1 374.8M63.2 388.8L65.1 387.0M67.1 374.8L65.1 387.0M63.8 543.1L65.3 541.6M65.3 541.6L61.4 533.4M59.7 434.9L58.4 446.8M58.4 446.8L58.3 446.9M247.4 288.8L242.0 294.9M251.9 299.8L243.6 301.9M243.6 301.9L242.0 294.9M235.8 283.5L235.5 289.2M242.0 294.9L235.5 289.2M225.2 292.6L233.4 291.2M235.5 289.2L233.4 291.2M248.2 313.7L243.6 310.5M248.2 313.7L249.1 321.8M243.6 310.5L237.7 316.8M237.7 316.8L240.4 325.1M249.1 321.8L243.1 326.9M240.4 325.1L243.1 326.9M251.4 312.8L248.2 313.7M243.6 301.9L241.8 304.3M241.8 304.3L243.6 310.5M258.4 324.8L249.1 321.8M227.0 321.8L228.8 316.3M231.8 326.2L240.4 325.1M228.8 316.3L237.7 316.8M243.9 333.9L243.1 326.9M323.4 359.4L317.6 356.9M323.4 359.4L330.7 352.8M317.6 356.9L319.5 349.1M319.5 349.1L326.8 346.7M326.8 346.7L331.1 350.8M331.1 350.8L330.7 352.8M324.5 361.9L323.4 359.4M324.5 361.9L323.7 369.7M313.6 358.1L317.6 356.9M317.9 347.2L319.5 349.1M326.6 339.1L326.8 346.7M317.8 337.4L320.1 336.4M339.5 347.2L331.1 350.8M282.6 336.0L284.8 347.3M282.6 336.0L287.4 331.1M287.4 331.1L292.0 336.2M292.0 336.2L292.6 342.8M292.6 342.8L284.8 347.3M275.9 337.0L282.6 336.0M284.4 347.9L284.8 347.3M287.3 326.9L287.4 331.1M298.4 345.7L292.6 342.8M294.1 322.8L301.0 334.0M294.1 322.8L307.1 326.4M308.3 327.8L307.0 335.8M308.3 327.8L307.1 326.4M307.0 335.8L301.0 334.0M293.8 322.6L294.1 322.8M292.0 336.2L301.0 334.0M305.2 313.7L307.1 326.4M307.5 336.9L307.0 335.8M316.4 323.4L308.3 327.8M107.6 301.7L106.2 310.5M106.2 310.5L99.3 314.1M95.4 302.9L95.3 309.1M99.3 314.1L95.3 309.1M141.1 334.1L134.8 331.5M140.6 345.0L128.7 345.3M128.7 345.3L128.3 336.4M134.8 331.5L128.3 336.4M144.1 317.4L130.7 321.6M134.8 331.5L130.7 321.6M141.7 399.1L137.3 401.4M141.7 399.1L148.6 402.0M137.3 401.4L132.0 416.5M148.6 402.0L151.0 409.0M132.0 416.5L141.8 422.4M141.8 422.4L143.0 421.9M151.0 409.0L143.0 421.9M180.8 461.0L181.6 451.1M180.8 461.0L187.1 464.4M194.8 451.7L194.5 457.4M194.8 451.7L189.2 448.4M189.2 448.4L181.6 451.1M128.0 346.1L128.2 358.0M128.0 346.1L115.9 344.7M115.9 344.7L116.2 359.5M116.2 359.5L125.1 360.8M125.1 360.8L128.2 358.0M128.7 345.3L128.0 346.1M139.8 357.6L128.2 358.0M116.4 332.1L128.3 336.4M116.4 332.1L114.6 333.9M115.9 344.7L115.6 344.4M114.6 333.9L115.6 344.4M112.1 361.6L116.2 359.5M112.1 361.6L111.4 369.7M111.4 369.7L116.9 373.9M125.1 360.8L128.3 371.6M116.9 373.9L128.3 371.6M137.6 372.3L131.2 374.7M128.3 371.6L131.2 374.7M51.2 299.5L52.8 298.3M52.8 298.3L52.8 298.3M106.3 359.4L103.5 347.8M106.3 359.4L98.8 361.6M98.8 361.6L92.1 359.7M92.1 359.7L93.5 347.6M93.5 347.6L101.1 346.3M101.1 346.3L103.5 347.8M112.1 361.6L106.3 359.4M115.6 344.4L103.5 347.8M320.7 538.6L324.8 533.8M311.0 531.4L315.7 528.2M315.7 528.2L324.8 533.8M453.1 479.8L450.6 481.7M450.6 481.7L452.1 485.1M452.5 536.8L448.8 534.2M448.8 534.2L449.2 525.8M437.6 472.3L437.2 481.2M437.6 472.3L432.3 468.1M425.9 478.9L424.9 474.7M425.9 478.9L432.2 482.2M432.3 468.1L424.9 474.7M437.2 481.2L432.2 482.2M396.2 545.1L396.6 537.1M396.2 545.1L409.3 549.4M413.7 547.8L404.7 530.7M396.6 537.1L404.7 530.7M349.0 545.3L346.7 535.4M346.7 535.4L356.6 531.7M360.2 533.8L356.6 531.7M360.2 533.8L361.1 538.6M396.2 545.1L390.9 549.1M390.9 549.1L389.2 558.5M405.2 560.8L394.0 562.3M423.0 565.7L423.2 570.6M407.9 564.3L406.1 572.0M417.4 575.6L423.2 570.6M417.4 575.6L409.6 576.9M407.8 606.9L409.7 592.0M417.4 575.6L418.7 590.3M409.7 591.8L418.7 590.3M423.2 570.6L434.1 581.0M434.1 581.0L431.4 592.6M431.4 592.6L429.3 593.8M418.7 590.3L429.3 593.8M442.7 576.5L450.4 578.5M442.7 576.5L441.6 561.2M450.4 578.5L457.7 567.2M457.7 567.2L446.7 557.6M446.7 557.6L441.6 561.2M452.8 581.7L450.4 578.5M434.1 581.0L442.7 576.5M433.5 593.6L431.4 592.6M436.9 560.3L441.6 561.2M463.6 566.0L457.7 567.2M455.4 548.2L447.9 554.4M447.9 554.4L446.7 557.6M447.9 554.4L436.1 542.5M432.8 547.2L436.1 542.5M435.0 614.9L424.7 606.1M435.0 614.9L433.7 623.6M433.7 623.6L422.0 624.0M422.0 624.0L418.7 609.4M418.7 609.4L424.7 606.1M442.9 610.5L435.0 614.9M429.3 593.8L424.7 606.1M438.0 634.3L438.1 629.5M438.1 629.5L433.7 623.6M420.4 625.6L422.0 624.0M408.1 608.5L418.7 609.4M516.0 362.6L507.5 370.2M516.0 362.6L514.0 356.1M502.4 352.8L501.8 367.9M502.4 352.8L511.3 353.9M501.8 367.9L507.5 370.2M514.0 356.1L511.3 353.9M523.6 363.9L516.0 362.6M508.0 371.4L507.5 370.2M530.5 355.9L524.0 348.0M524.0 348.0L514.0 356.1M499.1 349.2L489.8 352.4M499.1 349.2L502.4 352.8M486.1 355.3L494.3 369.3M494.3 369.3L501.8 367.9M552.1 293.8L566.1 290.1M552.1 293.8L549.2 290.1M560.9 282.4L566.1 290.1M560.9 282.4L553.8 280.9M549.2 290.1L553.8 280.9M560.4 272.3L564.5 274.6M560.4 272.3L552.4 276.4M564.5 274.6L560.9 282.4M553.8 280.9L552.4 276.4M563.3 322.1L564.8 315.0M573.6 313.5L568.1 312.5M564.8 315.0L568.1 312.5M551.8 312.2L544.2 309.6M551.8 312.2L550.0 323.5M544.2 309.6L539.5 314.5M539.5 314.5L541.5 324.5M550.0 323.5L541.5 324.5M552.0 296.5L555.7 301.6M552.0 296.5L543.3 304.7M543.3 304.7L544.2 309.6M554.7 311.3L555.7 301.6M554.7 311.3L551.8 312.2M556.0 327.2L550.0 323.5M554.7 311.3L564.8 315.0M536.4 300.0L528.8 307.0M536.4 300.0L543.3 304.7M528.8 307.0L528.9 312.6M528.9 312.6L539.5 314.5M541.7 337.6L540.2 326.2M540.2 326.2L541.5 324.5M578.3 300.1L567.4 302.9M578.3 300.1L576.3 288.9M566.7 290.3L571.5 288.1M566.7 290.3L567.1 302.4M567.1 302.4L567.4 302.9M576.3 288.9L571.5 288.1M580.8 302.0L578.3 300.1M568.1 312.5L567.4 302.9M588.2 287.9L587.4 287.4M583.4 286.6L576.3 288.9M571.0 277.5L571.5 288.1M571.0 277.5L565.8 274.5M565.8 274.5L564.5 274.6M566.1 290.1L566.7 290.3M552.0 296.5L552.1 293.8M555.7 301.6L567.1 302.4M574.9 274.9L580.6 276.7M574.9 274.9L571.0 277.5M507.3 287.9L499.8 291.8M507.3 287.9L513.1 295.5M513.1 295.5L512.9 296.9M512.9 296.9L503.3 300.7M499.8 291.8L503.3 300.7M506.5 284.2L507.3 287.9M496.4 289.8L499.8 291.8M516.4 291.9L513.1 295.5M529.1 293.0L525.2 290.1M529.1 293.0L522.6 301.5M522.6 301.5L516.1 300.8M516.1 300.8L512.9 296.9M491.3 301.9L502.4 301.6M502.4 301.6L503.3 300.7M384.0 461.6L383.5 451.0M384.0 461.6L384.1 461.8M384.1 461.8L392.1 464.7M394.6 453.9L389.7 450.9M394.6 453.9L395.8 458.9M395.8 458.9L392.1 464.7M389.7 450.9L383.5 451.0M376.1 472.4L374.9 471.6M376.1 472.4L378.9 471.4M378.9 471.4L384.1 461.8M374.9 471.6L373.6 461.0M373.6 461.0L384.0 461.6M392.4 467.7L387.3 472.6M392.4 467.7L392.1 464.7M378.9 471.4L387.3 472.6M399.8 449.5L400.1 441.3M399.8 449.5L394.6 453.9M392.6 441.7L389.7 450.9M392.4 467.7L395.8 470.2M395.8 470.2L404.7 470.8M403.2 460.4L404.7 470.8M403.2 460.4L395.8 458.9M383.2 450.9L383.5 451.0M399.8 449.5L406.3 451.5M403.2 460.4L405.2 459.3M405.2 459.3L406.3 451.5M410.4 444.7L411.2 448.8M411.2 448.8L406.3 451.5M406.0 471.7L411.9 469.5M406.0 471.7L405.5 480.5M405.5 480.5L411.1 483.8M417.2 473.3L411.9 469.5M417.2 473.3L414.0 482.4M411.1 483.8L414.0 482.4M404.7 470.8L406.0 471.7M405.2 459.3L414.6 461.0M414.6 461.0L411.9 469.5M395.8 470.2L395.9 480.9M401.0 482.5L395.9 480.9M401.0 482.5L405.5 480.5M425.9 478.9L421.7 483.4M421.7 483.4L414.0 482.4M424.9 474.7L421.4 472.9M421.4 472.9L417.2 473.3M328.1 447.4L327.7 446.6M328.1 447.4L323.4 464.0M311.3 461.3L314.2 464.1M323.4 464.0L314.2 464.1M271.8 504.9L289.5 506.2M285.2 495.3L289.9 505.1M289.5 506.2L289.9 505.1M283.9 516.9L289.2 512.4M289.5 506.2L289.2 512.4M297.7 525.8L300.9 517.4M289.2 512.4L300.9 517.4M438.7 471.9L445.9 473.1M438.7 471.9L444.0 464.8M444.0 464.8L447.5 471.5M445.9 473.1L447.5 471.5M437.6 472.3L438.7 471.9M447.6 481.3L445.9 473.1M447.6 481.3L441.2 483.9M441.2 483.9L437.2 481.2M434.2 461.5L444.5 461.9M434.2 461.5L431.9 464.5M432.3 468.1L431.9 464.5M444.5 461.9L444.0 464.8M457.1 468.6L447.5 471.5M457.1 468.6L446.3 460.5M444.5 461.9L446.3 460.5M458.1 468.8L457.1 468.6M447.6 481.3L450.6 481.7M458.1 438.6L453.6 439.9M458.1 438.6L461.8 440.2M461.8 440.2L462.1 451.6M453.6 439.9L447.2 452.5M459.2 454.0L447.6 453.0M459.2 454.0L462.1 451.6M447.6 453.0L447.2 452.5M468.2 437.3L477.1 438.1M468.2 437.3L461.8 440.2M468.4 453.8L462.1 451.6M444.0 450.8L447.2 452.5M444.0 450.8L442.6 439.8M442.6 439.8L446.0 437.4M446.0 437.4L453.6 439.9M459.2 467.6L459.2 454.0M446.3 460.5L447.6 453.0M434.2 461.5L434.3 451.4M434.3 451.4L444.0 450.8M413.4 421.3L419.5 424.9M414.3 435.4L420.9 429.2M419.5 424.9L420.9 429.2M488.2 621.2L483.9 621.4M481.3 611.6L481.7 620.0M483.9 621.4L481.7 620.0M494.2 638.6L488.6 637.9M483.9 621.4L488.6 637.9M480.6 653.2L481.4 642.0M488.6 637.9L481.4 642.0M470.7 604.5L463.5 612.8M481.7 620.0L470.5 626.1M463.5 612.8L470.5 626.1M450.3 610.6L452.2 613.1M463.5 612.8L452.2 613.1M438.1 629.5L451.6 622.1M451.6 622.1L452.2 613.1M528.0 195.0L528.0 195.1M528.0 195.1L528.4 195.2M530.0 195.6L534.0 196.7M534.0 196.7L534.7 189.9M584.4 270.7L584.7 271.9M589.3 274.1L591.8 273.5M594.3 282.9L596.1 278.9M331.6 221.1L335.1 231.9M335.1 231.9L341.4 231.7M343.2 230.0L343.3 221.2M333.6 219.1L342.0 220.0M343.3 221.2L342.0 220.0M355.4 222.1L353.5 220.9M352.8 220.5L350.0 218.9M343.3 221.2L350.0 218.9M326.2 242.2L331.3 240.8M326.2 242.2L320.7 239.1M324.4 230.6L320.9 234.8M324.4 230.6L333.7 232.8M333.7 232.8L331.3 240.8M320.7 239.1L320.9 234.8M318.1 233.2L320.9 234.8M323.2 223.7L324.4 230.6M335.1 231.9L333.7 232.8M335.4 244.5L331.3 240.8M316.4 242.0L310.3 240.6M316.4 242.0L320.7 239.1M310.3 240.6L310.4 238.9M287.9 254.2L294.3 248.6M287.9 254.2L286.6 253.6M310.3 240.6L307.0 242.0M518.4 195.5L517.5 193.9M512.4 203.9L514.5 203.7M515.7 194.5L517.5 193.9M524.2 197.5L528.0 195.1M518.9 189.4L516.9 190.3M517.5 193.9L516.9 190.3M534.7 241.7L535.3 248.0M534.7 241.7L540.7 238.0M543.2 239.8L540.7 238.0M543.2 239.8L542.3 248.2M542.3 248.2L535.3 248.0M577.6 238.1L577.6 236.5M577.6 238.1L569.5 242.9M567.0 232.7L568.7 232.2M567.0 232.7L566.0 240.0M569.5 242.9L566.0 240.0M574.9 274.9L575.2 267.3M565.8 274.5L569.2 266.1M569.2 266.1L575.2 267.3M575.2 267.3L578.8 265.0M545.8 267.6L542.1 268.9M545.8 267.6L543.3 257.9M542.1 268.9L535.8 266.1M538.2 258.8L535.8 266.1M538.2 258.8L542.3 257.5M543.3 257.9L542.3 257.5M560.4 272.3L559.1 265.5M549.4 268.4L551.3 275.6M549.4 268.4L553.9 263.8M552.4 276.4L551.3 275.6M559.1 265.5L553.9 263.8M553.9 240.1L551.7 238.2M553.9 240.1L563.2 230.4M551.7 238.2L551.1 232.2M563.0 230.0L563.2 230.4M560.9 229.6L551.2 232.1M551.2 232.1L551.1 232.2M514.7 219.6L511.0 221.1M514.7 219.6L515.3 215.9M515.3 215.9L507.7 210.3M511.0 221.1L505.7 220.2M505.7 220.2L504.4 212.3M504.4 212.3L505.1 211.7M509.4 230.5L511.0 221.1M516.8 221.7L514.7 219.6M527.1 220.0L525.6 222.0M517.1 214.2L515.3 215.9M502.4 222.4L505.7 220.2M502.4 212.2L504.4 212.3M476.4 240.1L482.0 238.8M474.5 244.1L474.5 248.9M476.5 249.5L482.7 245.5M476.5 249.5L474.5 248.9M482.7 245.5L483.4 240.2M483.4 240.2L482.0 238.8M480.5 233.9L482.0 238.8M473.6 249.0L474.5 248.9M478.7 254.4L476.5 249.5M489.7 250.7L482.7 245.5M489.8 238.7L483.4 240.2M435.7 315.3L441.3 323.9M425.3 323.1L430.0 330.8M430.0 330.8L441.3 323.9M450.4 323.3L443.1 325.0M441.3 323.9L443.1 325.0M481.3 372.8L493.8 370.1M481.3 372.8L479.3 380.6M479.3 380.6L492.4 387.1M493.8 370.1L493.1 386.4M493.1 386.4L492.4 387.1M494.3 369.3L493.8 370.1M475.6 365.4L481.3 372.8M502.8 385.8L493.1 386.4M494.5 399.3L490.1 395.4M490.1 395.4L492.4 387.1M416.4 351.5L425.7 352.2M415.5 337.7L427.4 338.6M425.7 352.2L427.4 338.6M430.0 330.8L430.7 336.5M427.4 338.6L430.7 336.5M452.3 384.0L465.6 386.8M453.4 398.7L464.4 392.8M453.4 398.7L450.3 394.9M464.4 392.8L465.6 386.8M453.9 370.0L458.0 369.9M465.3 374.0L468.8 383.5M465.6 386.8L468.8 383.5M479.3 380.6L472.6 383.8M468.8 383.5L472.6 383.8M491.3 412.8L481.4 411.1M490.1 395.4L484.3 398.1M481.4 411.1L484.3 398.1M464.4 392.8L469.3 400.1M472.6 383.8L480.5 396.7M469.3 400.1L480.5 396.7M484.3 398.1L480.5 396.7M481.8 426.8L478.5 421.4M468.2 437.3L465.6 424.7M465.6 424.7L478.5 421.4M481.4 411.1L478.0 413.8M469.3 400.1L467.6 409.2M467.6 409.2L478.0 413.8M478.5 421.4L478.0 413.8M452.7 409.2L464.8 410.3M452.7 409.2L451.8 410.0M451.8 410.0L450.0 422.1M464.8 410.3L464.6 424.1M464.6 424.1L454.4 425.2M454.4 425.2L450.0 422.1M453.4 398.7L452.7 409.2M467.6 409.2L464.8 410.3M465.6 424.7L464.6 424.1M458.1 438.6L454.4 425.2M444.6 425.2L450.0 422.1M444.6 425.2L446.0 437.4M414.6 377.4L424.4 385.0M424.4 385.0L421.0 395.3M411.4 398.4L415.2 397.9M415.2 397.9L421.0 395.3M415.2 415.8L420.9 413.0M415.2 397.9L420.9 413.0M374.9 471.6L368.5 472.4M368.5 472.4L364.2 470.2M373.6 461.0L372.8 459.9M362.7 465.1L366.9 460.4M372.8 459.9L366.9 460.4M375.6 451.7L375.1 452.2M372.8 459.9L375.1 452.2M376.1 472.4L377.1 479.4M368.5 472.4L365.9 481.2M377.1 479.4L372.8 485.5M365.9 481.2L372.8 485.5M364.7 442.3L355.8 439.3M364.7 442.3L363.8 449.7M363.8 449.7L361.6 451.9M353.3 448.3L358.5 452.5M353.3 448.3L354.0 440.9M358.5 452.5L361.6 451.9M354.0 440.9L355.8 439.3M356.1 432.7L355.8 439.3M365.3 441.9L364.7 442.3M375.1 452.2L363.8 449.7M366.9 460.4L361.6 451.9M353.9 461.9L353.9 461.9M353.9 461.9L358.5 452.5M344.2 439.2L354.0 440.9M333.8 451.1L343.8 450.9M333.8 451.1L335.2 466.8M345.8 460.7L344.2 451.2M345.8 460.7L339.6 466.4M343.8 450.9L344.2 451.2M335.2 466.8L339.6 466.4M342.9 441.1L343.8 450.9M328.1 447.4L333.8 451.1M331.7 468.5L323.4 464.0M331.7 468.5L335.2 466.8M353.9 461.9L345.8 460.7M353.3 448.3L344.2 451.2M345.9 473.9L353.4 472.1M345.9 473.9L339.6 466.4M403.5 297.5L403.0 299.7M403.5 297.5L414.6 297.6M403.0 299.7L410.3 305.9M410.3 305.9L416.2 303.8M416.2 303.8L414.6 297.6M402.8 293.9L403.5 297.5M399.6 302.8L403.0 299.7M416.2 292.6L414.6 297.6M407.7 312.6L410.3 305.9M423.6 307.3L416.2 303.8M336.8 361.5L338.4 361.5M336.8 361.5L334.4 363.3M338.4 361.5L342.8 370.2M334.4 363.3L332.3 369.9M332.3 369.9L337.1 373.8M337.1 373.8L342.8 370.2M343.5 357.4L338.4 361.5M330.7 352.8L336.8 361.5M324.5 361.9L334.4 363.3M347.4 371.1L342.8 370.2M325.6 371.2L332.3 369.9M335.9 380.7L337.1 373.8M373.7 291.6L363.6 287.8M373.7 291.6L374.8 283.1M374.8 283.1L369.7 280.4M369.7 280.4L363.5 284.7M363.5 284.7L363.6 287.8M362.0 290.4L363.6 287.8M373.9 291.9L373.7 291.6M381.8 280.8L374.8 283.1M370.5 272.0L369.7 280.4M360.2 281.6L363.5 284.7M280.1 253.5L278.4 253.5M280.3 253.6L280.5 262.1M280.5 262.1L273.9 261.6M273.2 255.4L272.1 259.0M273.9 261.6L272.1 259.0M287.9 254.2L290.3 259.4M290.3 259.4L283.2 265.5M283.2 265.5L280.5 262.1M273.1 270.3L273.9 261.6M283.2 265.5L282.7 269.5M264.2 261.8L272.1 259.0M303.1 280.8L295.2 282.0M303.1 280.8L304.1 279.2M304.1 279.2L301.9 272.9M301.9 272.9L295.6 270.5M295.2 282.0L290.6 276.6M295.6 270.5L290.4 274.2M290.4 274.2L290.6 276.6M303.6 288.1L303.1 280.8M294.1 288.7L295.2 282.0M311.6 279.5L304.1 279.2M310.6 269.6L307.4 268.5M307.4 268.5L301.9 272.9M285.0 284.6L290.6 276.6M284.2 271.5L290.4 274.2M290.3 259.4L296.0 261.7M296.0 261.7L295.6 270.5M332.7 253.1L325.6 251.1M332.7 253.1L332.2 259.9M332.2 259.9L320.9 261.9M325.6 251.1L321.9 253.1M321.9 253.1L319.8 260.8M320.9 261.9L319.8 260.8M336.7 250.6L332.7 253.1M326.2 242.2L325.6 251.1M334.5 263.2L332.2 259.9M323.8 270.0L320.9 261.9M316.4 242.0L316.8 248.8M316.8 248.8L321.9 253.1M311.4 269.4L318.5 260.9M318.5 260.9L319.8 260.8M167.7 560.8L165.3 569.9M167.7 560.8L175.6 556.0M165.3 569.9L168.5 571.8M175.6 556.0L181.7 558.3M181.7 558.3L183.1 561.4M148.9 570.2L154.2 571.8M158.1 556.4L167.7 560.8M162.7 571.8L165.3 569.9M172.6 545.5L175.6 556.0M183.6 535.6L192.5 541.8M185.4 555.3L181.7 558.3M197.6 568.8L192.2 569.7M205.8 371.9L205.0 380.4M192.1 380.1L189.8 373.6M192.1 380.1L199.0 383.4M205.0 380.4L199.0 383.4M239.6 406.5L230.5 405.6M230.2 416.5L227.9 411.3M230.5 405.6L227.9 411.3M201.7 434.1L215.3 435.8M201.7 434.1L206.6 422.3M215.7 423.7L214.5 422.5M216.0 435.4L215.3 435.8M214.5 422.5L206.6 422.3M227.9 411.3L217.3 412.0M214.5 422.5L217.3 412.0M205.6 448.3L206.8 457.4M205.6 448.3L209.9 447.3M209.9 447.3L217.8 450.6M206.8 457.4L215.2 460.8M217.8 450.6L215.2 460.8M203.6 447.5L205.6 448.3M203.6 447.5L194.8 451.7M202.3 463.1L206.8 457.4M199.7 435.6L201.7 434.1M199.7 435.6L203.6 447.5M215.3 435.8L209.9 447.3M225.8 448.6L217.8 450.6M239.7 464.2L235.7 462.6M239.7 464.2L239.5 477.3M235.7 462.6L226.3 473.8M239.5 477.3L231.5 480.8M231.5 480.8L226.3 473.8M247.1 460.9L239.7 464.2M229.6 451.3L229.9 456.3M229.9 456.3L235.7 462.6M251.0 480.0L239.5 477.3M229.9 456.3L222.6 463.7M226.3 473.8L224.1 472.5M222.6 463.7L224.1 472.5M215.2 460.8L215.4 461.2M222.6 463.7L215.4 461.2M189.5 484.2L192.1 472.7M189.2 469.8L176.9 475.6M188.2 485.5L177.7 485.7M176.9 475.6L177.7 485.7M144.6 525.0L145.9 508.0M159.9 526.6L162.5 513.3M145.9 508.0L162.5 513.3M200.4 524.7L203.0 514.1M200.4 524.7L190.2 523.3M203.0 514.1L185.4 507.5M190.2 523.3L184.3 508.1M184.3 508.1L185.4 507.5M209.0 509.7L208.3 509.5M200.6 525.0L200.4 524.7M208.3 509.5L203.0 514.1M182.8 531.3L190.2 523.3M208.3 509.5L204.7 499.7M192.8 499.3L185.4 507.5M204.7 499.7L201.5 498.6M217.3 507.9L221.8 497.6M204.7 499.7L212.6 492.9M212.6 492.9L221.8 497.6M232.0 511.4L224.2 497.1M224.2 497.1L221.8 497.6M236.4 494.1L231.3 490.7M224.2 497.1L231.3 490.7M231.5 480.8L230.5 484.2M231.3 490.7L230.5 484.2M166.6 449.3L175.1 445.8M166.6 449.3L165.1 455.1M180.8 461.0L178.1 462.0M175.1 445.8L181.6 451.1M165.1 455.1L178.1 462.0M176.9 475.6L172.8 470.2M178.1 462.0L172.8 470.2M175.1 445.8L176.7 438.2M189.2 448.4L189.6 435.8M176.7 438.2L181.2 433.7M181.2 433.7L189.6 435.8M199.7 435.6L193.5 434.2M193.5 434.2L189.6 435.8M217.3 412.0L214.6 408.1M214.6 408.1L200.4 410.5M206.6 422.3L201.6 417.7M200.4 410.5L201.6 417.7M193.5 434.2L193.4 423.2M201.6 417.7L193.4 423.2M178.7 425.2L186.8 419.9M178.7 425.2L181.2 433.7M193.4 423.2L186.8 419.9M180.4 374.1L175.3 384.2M192.1 380.1L185.8 387.6M185.8 387.6L175.3 384.2M174.8 410.1L176.4 409.1M174.8 410.1L166.1 405.3M176.4 409.1L177.9 397.8M166.1 405.3L165.0 399.9M165.0 399.9L175.3 396.0M177.9 397.8L175.3 396.0M172.3 421.0L178.7 425.2M172.3 421.0L174.8 410.1M187.6 409.8L186.8 419.9M187.6 409.8L176.4 409.1M187.1 395.6L177.9 397.8M187.1 395.6L185.8 387.6M175.3 384.2L172.7 385.2M172.7 385.2L175.3 396.0M162.9 379.8L151.6 383.9M162.9 379.8L166.3 383.8M166.3 383.8L161.7 396.4M151.6 383.9L155.3 397.0M155.3 397.0L161.7 396.4M162.9 375.9L162.9 379.8M144.9 373.6L148.0 383.3M148.0 383.3L151.6 383.9M172.7 385.2L166.3 383.8M165.0 399.9L161.7 396.4M141.7 399.1L141.0 388.9M148.6 402.0L155.3 397.0M141.0 388.9L148.0 383.3M158.8 411.6L151.0 409.0M158.8 411.6L166.1 405.3M50.6 402.3L47.7 401.6M67.9 357.8L77.1 357.3M67.1 374.8L73.7 372.9M73.7 372.9L77.1 357.3M96.6 549.9L95.0 541.3M95.0 541.3L92.1 539.8M92.1 539.8L79.9 542.8M79.9 542.8L79.8 545.0M110.5 540.5L107.5 539.3M107.5 539.3L95.0 541.3M77.3 541.2L65.3 541.6M77.3 541.2L79.9 542.8M113.0 520.4L113.0 508.8M113.0 520.4L107.2 522.4M107.2 522.4L100.5 519.8M107.6 503.4L113.0 508.8M107.6 503.4L97.3 513.5M97.3 513.5L100.5 519.8M125.6 525.1L125.1 524.2M125.1 524.2L113.0 520.4M107.5 539.3L107.2 522.4M92.4 530.6L100.5 519.8M92.4 530.6L92.1 539.8M58.4 446.8L62.7 450.5M62.7 450.5L61.1 463.0M58.4 462.6L61.1 463.0M232.5 300.7L236.8 304.0M232.5 300.7L226.3 300.2M236.8 304.0L227.6 312.9M226.3 300.2L224.1 310.5M224.1 310.5L227.6 312.9M241.8 304.3L236.8 304.0M233.4 291.2L232.5 300.7M223.2 297.1L226.3 300.2M228.8 316.3L227.6 312.9M220.8 310.3L224.1 310.5M104.5 321.3L103.6 333.1M104.5 321.3L99.1 317.3M99.1 317.3L92.5 322.6M92.5 322.6L95.5 331.6M95.5 331.6L103.2 333.2M103.2 333.2L103.6 333.1M114.6 333.9L103.6 333.1M101.1 346.3L103.2 333.2M118.3 325.1L128.6 320.4M118.3 325.1L113.4 319.4M113.1 315.2L118.0 309.0M113.1 315.2L113.4 319.4M118.0 309.0L127.9 312.4M127.9 312.4L128.6 320.4M116.4 332.1L118.3 325.1M130.7 321.6L128.6 320.4M104.5 321.3L113.4 319.4M116.5 303.8L118.0 309.0M106.2 310.5L113.1 315.2M99.3 314.1L99.1 317.3M127.9 312.3L127.9 312.4M151.6 423.9L162.7 421.0M151.6 423.9L156.2 434.1M156.2 434.1L161.5 435.1M165.8 422.9L163.5 433.2M165.8 422.9L162.7 421.0M163.5 433.2L161.5 435.1M158.8 411.6L162.7 421.0M143.0 421.9L151.6 423.9M141.8 422.4L140.7 431.7M140.7 431.7L149.2 436.8M149.2 436.8L156.2 434.1M161.5 443.7L161.5 435.1M161.5 443.7L150.6 446.4M149.2 436.8L150.6 446.4M172.3 421.0L165.8 422.9M176.7 438.2L163.5 433.2M166.6 449.3L161.5 443.7M139.5 447.8L137.8 434.8M139.5 447.8L123.1 446.9M137.8 434.8L126.7 436.3M123.1 446.9L126.7 436.3M132.0 416.5L130.8 416.6M130.8 416.6L121.8 429.7M121.8 429.7L126.7 436.3M140.7 431.7L137.8 434.8M116.9 373.9L117.5 384.5M131.2 374.7L130.2 381.3M117.5 384.5L130.2 381.3M137.3 401.4L126.0 397.4M141.0 388.9L131.5 383.4M126.0 397.4L131.5 383.4M131.5 383.4L130.2 381.3M61.9 345.1L62.1 344.8M62.1 344.8L63.1 335.5M52.5 333.6L63.1 335.5M343.7 517.1L329.7 515.7M343.7 517.1L339.9 532.7M329.7 515.7L330.6 534.7M339.9 532.7L331.1 535.0M331.1 535.0L330.6 534.7M331.3 549.8L331.1 535.0M346.7 535.4L339.9 532.7M324.8 533.8L330.6 534.7M445.2 516.8L441.5 503.8M445.2 516.8L447.5 517.4M448.6 502.0L445.6 499.7M441.5 503.8L445.6 499.7M450.6 493.2L445.5 495.2M441.2 483.9L441.2 491.7M441.2 491.7L445.5 495.2M445.5 495.2L445.6 499.7M445.2 516.8L433.5 518.2M432.9 503.4L441.5 503.8M432.9 503.4L431.8 517.6M433.5 518.2L431.8 517.6M448.8 534.2L438.2 536.6M433.5 518.2L438.2 536.6M415.5 547.7L422.0 534.7M436.1 542.5L436.2 538.4M422.0 534.7L436.2 538.4M438.2 536.6L436.2 538.4M390.9 549.1L377.4 541.2M377.4 541.2L377.3 538.3M396.6 537.1L389.4 531.1M389.4 531.1L377.3 538.3M360.2 533.8L372.7 531.7M377.4 541.2L376.8 541.9M377.3 538.3L372.7 531.7M536.4 300.0L535.7 295.5M549.2 290.1L545.3 289.1M545.3 289.1L535.7 295.5M529.1 293.0L532.3 293.1M526.5 282.2L533.4 285.4M533.4 285.4L532.3 293.1M522.6 301.5L528.8 307.0M535.7 295.5L532.3 293.1M524.0 348.0L522.9 342.1M511.3 353.9L514.9 340.2M522.9 342.1L514.9 340.2M539.1 340.2L527.2 338.5M522.9 342.1L527.2 338.5M501.1 341.5L492.5 334.3M501.1 341.5L506.0 338.9M506.0 338.9L502.4 323.3M502.4 323.3L491.6 331.2M492.5 334.3L491.6 331.2M499.1 349.2L501.1 341.5M487.1 339.8L492.5 334.3M514.9 340.2L512.3 338.3M512.3 338.3L506.0 338.9M489.3 329.4L491.6 331.2M415.6 460.2L415.1 451.3M415.6 460.2L421.5 461.7M423.2 461.3L421.5 461.7M423.2 461.3L426.5 451.7M426.5 451.7L420.0 449.0M420.0 449.0L415.1 451.3M411.2 448.8L415.1 451.3M414.6 461.0L415.6 460.2M421.4 472.9L421.5 461.7M431.9 464.5L423.2 461.3M432.5 449.9L426.5 451.7M432.5 449.9L434.3 451.4M415.0 437.7L421.5 441.0M421.5 441.0L420.0 449.0M297.6 477.8L310.8 480.4M314.2 464.1L312.1 479.2M310.8 480.4L312.1 479.2M331.7 468.5L330.8 474.2M330.8 474.2L322.5 480.8M312.1 479.2L322.5 480.8M315.7 528.2L313.8 518.1M329.7 515.7L329.2 515.2M313.8 518.1L329.2 515.2M344.8 516.1L343.7 517.1M344.8 516.1L341.7 503.2M341.7 503.2L331.5 501.9M331.5 501.9L329.8 503.5M329.8 503.5L329.2 515.2M292.9 488.4L298.2 492.4M289.9 505.1L299.9 501.6M298.2 492.4L299.9 501.6M310.8 480.4L310.4 488.9M298.2 492.4L310.4 488.9M326.0 490.2L322.5 480.8M326.0 490.2L313.5 494.6M313.5 494.6L310.4 488.9M426.5 431.5L433.4 428.9M426.5 431.5L424.5 439.9M433.4 428.9L436.0 438.9M424.5 439.9L432.0 443.9M432.0 443.9L436.0 438.9M421.5 441.0L424.5 439.9M420.9 429.2L426.5 431.5M432.5 449.9L432.0 443.9M442.6 439.8L436.0 438.9M444.6 425.2L436.8 425.1M433.4 428.9L435.0 426.2M436.8 425.1L435.0 426.2M419.5 424.9L425.9 419.9M435.0 426.2L425.9 419.9M420.9 413.0L424.7 413.6M425.9 419.9L424.7 413.6M470.1 635.9L470.4 626.4M470.1 635.9L463.1 641.3M470.4 626.4L454.6 625.3M463.1 641.3L454.7 637.2M454.7 637.2L454.6 625.3M481.4 642.0L470.1 635.9M470.5 626.1L470.4 626.4M462.1 653.0L463.1 641.3M451.6 622.1L454.6 625.3M449.3 638.7L454.7 637.2M579.7 241.2L577.6 238.1M525.1 204.4L534.1 203.7M534.0 196.7L535.0 197.6M535.0 197.6L534.1 203.7M533.5 211.1L535.9 209.5M535.9 209.5L536.4 207.9M534.1 203.7L536.4 207.9M342.0 220.0L342.1 211.5M340.8 210.9L342.1 211.5M528.2 276.2L532.8 275.3M525.9 274.5L524.2 266.0M532.8 275.3L534.5 266.7M534.5 266.7L526.5 264.1M524.2 266.0L526.5 264.1M516.6 266.6L517.2 266.2M524.2 266.0L517.2 266.2M515.4 255.5L517.6 257.5M517.2 266.2L517.6 257.5M553.9 240.1L554.1 240.4M563.2 230.4L567.0 232.7M566.0 240.0L562.2 241.6M554.1 240.4L562.2 241.6M577.9 248.4L576.6 249.0M579.6 260.8L574.9 256.7M574.9 256.7L576.6 249.0M569.5 242.9L570.5 246.7M562.2 241.6L562.3 248.9M562.3 248.9L567.3 250.2M567.3 250.2L570.5 246.7M576.6 249.0L570.5 246.7M562.7 257.1L559.7 265.1M562.7 257.1L567.6 256.7M567.6 256.7L568.7 257.5M568.7 257.5L568.2 264.8M568.2 264.8L559.7 265.1M574.9 256.7L568.7 257.5M567.3 250.2L567.6 256.7M569.2 266.1L568.2 264.8M559.1 265.5L559.7 265.1M548.8 257.5L550.6 249.0M548.8 257.5L553.1 260.1M553.1 260.1L558.0 254.1M550.6 249.0L553.1 247.5M553.1 247.5L557.6 251.5M558.0 254.1L557.6 251.5M542.6 248.5L542.3 257.5M542.6 248.5L550.6 249.0M543.3 257.9L548.8 257.5M549.4 268.4L545.8 267.6M553.9 263.8L553.1 260.1M562.7 257.1L558.0 254.1M551.7 238.2L543.2 239.8M542.3 248.2L542.6 248.5M554.1 240.4L553.1 247.5M562.3 248.9L557.6 251.5M543.5 229.9L545.9 223.4M543.5 229.9L538.5 231.7M536.1 229.4L536.9 230.6M536.1 229.4L536.7 222.3M545.9 223.4L539.7 220.2M536.9 230.6L538.5 231.7M536.7 222.3L539.7 220.2M540.7 238.0L538.5 231.7M551.1 232.2L543.5 229.9M524.6 237.6L527.8 239.1M527.8 239.1L528.9 238.9M528.9 238.9L536.9 230.6M526.3 228.6L536.1 229.4M532.9 220.2L536.7 222.3M528.9 238.9L534.7 241.7M540.8 216.7L539.7 220.2M540.8 216.7L535.9 209.5M426.8 353.1L436.0 355.2M426.8 353.1L423.4 362.8M436.0 355.2L433.1 365.9M433.1 365.9L428.0 368.5M428.0 368.5L422.7 366.3M422.7 366.3L423.4 362.8M414.4 353.7L423.4 362.8M425.7 352.2L426.8 353.1M429.5 382.6L428.0 368.5M429.5 382.6L436.5 383.0M441.9 372.4L433.1 365.9M413.4 368.7L422.7 366.3M424.4 385.0L429.5 382.6M447.2 356.3L438.9 353.9M447.2 356.3L451.6 352.5M438.9 353.9L438.0 339.1M451.6 352.5L454.1 342.1M451.5 338.9L454.1 342.1M451.5 338.9L441.9 337.2M441.9 337.2L438.0 339.1M450.2 367.9L447.2 356.3M436.0 355.2L438.9 353.9M455.6 353.5L451.6 352.5M430.7 336.5L438.0 339.1M465.9 340.8L454.1 342.1M454.7 327.7L451.5 338.9M443.1 325.0L441.9 337.2M387.3 472.6L388.7 481.9M377.1 479.4L386.4 483.0M386.4 483.0L388.7 481.9M395.9 480.9L390.6 482.4M388.7 481.9L390.6 482.4M388.5 519.7L389.4 531.1M388.5 519.7L378.6 517.3M372.7 531.7L375.0 518.3M378.6 517.3L375.0 518.3M345.9 473.9L345.4 481.9M357.3 475.2L357.5 481.7M345.4 481.9L353.1 483.6M357.5 481.7L353.1 483.6M365.9 481.2L359.5 482.7M357.5 481.7L359.5 482.7M307.1 251.8L300.2 255.0M307.1 251.8L308.5 252.5M308.5 252.5L311.2 258.5M311.2 258.5L306.3 263.4M306.3 263.4L298.2 260.4M298.2 260.4L300.2 255.0M295.7 249.1L300.2 255.0M305.8 245.4L307.1 251.8M316.8 248.8L308.5 252.5M318.5 260.9L311.2 258.5M307.4 268.5L306.3 263.4M296.0 261.7L298.2 260.4M210.4 395.5L214.9 384.7M210.4 395.5L215.5 400.7M215.5 400.7L227.7 397.5M215.3 384.5L226.1 388.3M215.3 384.5L214.9 384.7M226.1 388.3L228.2 396.4M228.2 396.4L227.7 397.5M230.5 405.6L227.7 397.5M214.6 408.1L215.5 400.7M219.3 371.9L215.3 384.5M229.8 383.7L226.1 388.3M205.0 380.4L214.9 384.7M240.9 393.8L228.2 396.4M165.1 455.1L160.4 459.7M160.4 459.7L162.5 467.9M172.8 470.2L165.8 470.4M162.5 467.9L165.8 470.4M177.7 485.7L175.0 487.9M165.8 470.4L164.2 485.0M175.0 487.9L164.2 485.0M184.3 508.1L174.9 507.2M175.0 487.9L174.9 507.2M175.4 526.9L174.4 507.5M162.5 513.3L172.9 507.7M172.9 507.7L174.4 507.5M174.4 507.5L174.9 507.2M217.4 484.9L212.6 489.3M217.4 484.9L215.6 474.6M212.6 489.3L205.5 482.1M205.5 482.1L206.4 473.1M215.6 474.6L208.5 472.6M206.4 473.1L208.5 472.6M212.6 492.9L212.6 489.3M230.5 484.2L217.4 484.9M224.1 472.5L215.6 474.6M200.3 485.4L205.5 482.1M203.0 471.0L206.4 473.1M215.4 461.2L208.5 472.6M190.3 407.8L200.2 410.3M190.3 407.8L188.8 397.0M200.2 410.3L204.0 396.3M188.8 397.0L200.0 393.3M200.0 393.3L204.0 396.3M187.6 409.8L190.3 407.8M200.4 410.5L200.2 410.3M187.1 395.6L188.8 397.0M210.4 395.5L204.0 396.3M199.0 383.4L200.0 393.3M93.4 433.6L90.1 445.3M93.4 433.6L78.4 430.2M90.1 445.3L80.5 450.3M71.2 432.5L78.4 430.2M71.2 432.5L76.1 447.3M76.1 447.3L80.5 450.3M96.0 431.1L93.4 433.6M96.0 431.1L97.1 422.7M84.3 415.2L89.0 414.6M84.3 415.2L78.4 430.2M97.1 422.7L89.0 414.6M68.9 431.2L71.2 432.5M62.7 450.5L76.1 447.3M63.0 465.4L61.1 463.0M63.0 465.4L75.0 466.6M80.5 450.3L80.4 459.0M75.0 466.6L80.4 459.0M99.0 451.1L95.6 465.2M99.0 451.1L90.1 445.3M80.4 459.0L95.6 465.2M112.0 448.7L111.0 450.1M112.0 448.7L122.7 447.3M111.0 450.1L111.9 462.8M122.7 447.3L130.8 463.6M111.9 462.8L125.3 468.0M125.3 468.0L130.8 463.6M96.0 431.1L108.7 437.6M108.7 437.6L112.0 448.7M99.0 451.1L111.0 450.1M117.2 429.1L121.8 429.7M117.2 429.1L108.7 437.6M123.1 446.9L122.7 447.3M124.0 477.3L129.9 486.9M124.0 477.3L125.3 468.0M140.4 481.8L129.9 486.9M140.4 481.8L142.1 478.3M133.4 463.4L142.1 478.3M133.4 463.4L130.8 463.6M73.6 412.6L69.2 401.8M73.6 412.6L74.7 412.6M74.7 412.6L80.1 401.4M69.2 401.8L78.7 396.5M80.1 401.4L80.7 396.9M78.7 396.5L80.7 396.9M66.8 418.0L73.6 412.6M61.3 396.8L69.2 401.8M84.3 415.2L74.7 412.6M89.0 414.6L89.6 412.2M89.6 412.2L80.1 401.4M65.1 387.0L71.8 388.5M71.8 388.5L78.7 396.5M130.8 416.6L129.1 415.7M117.2 429.1L109.8 418.0M129.1 415.7L109.8 418.0M97.1 422.7L108.6 417.2M109.8 418.0L108.6 417.2M111.4 369.7L106.9 374.1M98.8 361.6L99.7 372.7M106.9 374.1L99.7 372.7M73.7 372.9L76.9 374.0M88.7 361.5L87.2 372.8M88.7 361.5L77.5 357.0M77.1 357.3L77.5 357.0M87.2 372.8L76.9 374.0M92.1 359.7L88.7 361.5M99.7 372.7L91.6 377.7M87.2 372.8L91.6 377.7M71.8 388.5L79.6 384.7M76.9 374.0L79.6 384.7M77.3 541.2L75.7 527.4M64.3 523.7L64.8 523.3M64.8 523.3L75.7 527.4M92.4 530.6L81.8 520.4M75.7 527.4L81.8 520.4M89.1 510.3L82.3 514.8M89.1 510.3L97.3 513.5M81.8 520.4L82.3 514.8M89.1 510.3L88.3 499.8M88.3 499.8L98.5 495.1M107.6 503.4L107.7 498.1M107.7 498.1L98.5 495.1M60.9 470.1L63.0 465.4M125.2 494.4L122.6 507.7M125.2 494.4L128.6 492.5M128.6 492.5L143.5 505.2M143.5 505.2L127.5 515.0M127.5 515.0L122.6 507.7M113.0 508.8L122.6 507.7M107.7 498.1L111.7 494.3M111.7 494.3L125.2 494.4M125.1 524.2L127.5 515.0M145.9 508.0L144.1 505.3M144.1 505.3L143.5 505.2M137.2 461.2L147.1 463.3M137.2 461.2L140.5 449.1M149.3 448.2L140.5 449.1M149.3 448.2L154.5 458.4M154.5 458.4L147.1 463.3M133.4 463.4L137.2 461.2M149.8 474.3L147.1 463.3M149.8 474.3L142.1 478.3M139.5 447.8L140.5 449.1M150.6 446.4L149.3 448.2M160.4 459.7L154.5 458.4M149.8 474.3L152.0 474.9M152.0 474.9L162.5 467.9M77.9 332.8L76.6 333.6M77.9 332.8L88.2 337.7M76.6 333.6L75.9 348.3M88.2 337.7L89.4 344.2M89.4 344.2L77.9 351.0M77.9 351.0L75.9 348.3M62.1 344.8L75.9 348.3M63.1 335.5L64.0 334.6M64.0 334.6L76.6 333.6M93.5 347.6L89.4 344.2M95.5 331.6L88.2 337.7M77.5 357.0L77.9 351.0M64.6 298.9L64.7 301.5M52.8 298.3L59.9 303.0M59.9 303.0L64.7 301.5M74.6 299.3L74.5 302.1M74.5 302.1L64.9 301.7M64.7 301.5L64.9 301.7M52.1 322.0L62.5 322.2M51.6 311.3L56.8 310.6M56.8 310.6L61.3 314.0M61.3 314.0L62.7 321.9M62.7 321.9L62.5 322.2M64.0 334.6L62.5 322.2M59.9 303.0L56.8 310.6M66.4 310.6L64.9 301.7M66.4 310.6L61.3 314.0M420.6 517.0L412.8 514.7M420.6 517.0L423.5 519.3M423.5 519.3L420.8 531.5M420.8 531.5L405.1 529.9M405.1 529.9L403.8 522.9M403.8 522.9L409.3 516.0M412.8 514.7L409.3 516.0M431.8 517.6L423.5 519.3M422.0 534.7L420.8 531.5M404.7 530.7L405.1 529.9M388.5 519.7L389.6 519.2M389.6 519.2L403.8 522.9M401.4 509.6L394.5 509.4M401.4 509.6L409.3 516.0M389.6 519.2L394.5 509.4M542.8 285.2L536.9 282.2M542.8 285.2L545.4 277.4M545.4 277.4L541.1 274.9M541.1 274.9L535.8 277.5M535.8 277.5L536.9 282.2M545.3 289.1L542.8 285.2M533.4 285.4L536.9 282.2M551.3 275.6L545.4 277.4M542.1 268.9L541.1 274.9M532.8 275.3L535.8 277.5M535.8 266.1L534.5 266.7M516.1 300.8L514.8 311.7M502.4 301.6L504.5 312.4M514.8 311.7L504.5 312.4M489.6 313.8L501.1 316.9M504.5 312.4L501.1 316.9M502.4 323.3L502.8 322.5M501.1 316.9L502.8 322.5M334.7 480.0L332.6 489.9M334.7 480.0L345.1 482.1M332.6 489.9L342.7 489.7M345.1 482.1L342.7 489.7M330.8 474.2L334.7 480.0M330.0 492.2L332.6 489.9M330.0 492.2L326.0 490.2M345.4 481.9L345.1 482.1M303.7 503.5L313.4 496.8M303.7 503.5L306.2 515.1M306.2 515.1L313.1 517.4M313.1 517.4L319.0 503.6M319.0 503.6L313.4 496.8M299.9 501.6L303.7 503.5M313.5 494.6L313.4 496.8M300.9 517.4L306.2 515.1M313.8 518.1L313.1 517.4M329.8 503.5L319.0 503.6M331.5 501.9L330.0 492.2M430.6 408.8L434.8 409.6M430.6 408.8L424.9 398.2M438.7 396.2L439.8 407.2M438.7 396.2L424.9 398.2M439.8 407.2L434.8 409.6M436.8 425.1L434.8 409.6M424.7 413.6L430.6 408.8M421.0 395.3L424.9 398.2M440.0 393.9L438.7 396.2M451.8 410.0L439.8 407.2M344.2 210.6L346.3 211.1M342.1 211.5L343.5 210.7M350.0 218.9L350.6 215.4M516.1 189.5L516.1 189.5M516.1 189.5L516.1 189.4M516.9 190.3L516.1 189.5M524.0 256.6L526.6 260.4M524.0 256.6L524.9 250.5M526.6 260.4L534.0 255.8M528.3 249.2L532.5 250.3M528.3 249.2L524.9 250.5M532.5 250.3L534.0 255.8M526.5 264.1L526.6 260.4M517.6 257.5L524.0 256.6M518.6 247.4L524.9 250.5M538.2 258.8L534.0 255.8M527.8 239.1L528.3 249.2M535.3 248.0L532.5 250.3M372.8 485.5L373.1 490.4M373.1 490.4L375.2 492.0M386.4 483.0L383.2 490.9M383.2 490.9L375.2 492.0M371.2 502.7L371.3 516.5M371.2 502.7L376.0 499.5M378.6 517.3L381.8 504.0M371.3 516.5L375.0 518.3M376.0 499.5L381.8 504.0M373.1 490.4L364.3 493.7M359.5 482.7L362.9 493.0M364.3 493.7L362.9 493.0M371.2 502.7L364.8 500.4M375.2 492.0L376.0 499.5M364.3 493.7L364.8 500.4M157.4 483.9L163.4 485.3M157.4 483.9L149.2 489.8M163.4 485.3L159.9 497.1M159.9 497.1L148.7 499.3M149.2 489.8L148.7 499.3M152.0 474.9L157.4 483.9M164.2 485.0L163.4 485.3M140.4 481.8L149.2 489.8M172.9 507.7L159.9 497.1M144.1 505.3L148.7 499.3M129.9 486.9L128.6 492.5M75.0 466.6L77.7 474.9M77.7 474.9L64.9 480.4M129.1 415.7L117.3 401.2M108.6 417.2L110.4 404.8M110.4 404.8L117.3 401.2M117.5 384.5L115.3 386.6M126.0 397.4L118.3 399.4M115.3 386.6L118.3 399.4M106.9 374.1L107.8 384.4M115.3 386.6L107.8 384.4M118.3 399.4L117.3 401.2M73.5 511.2L65.8 513.1M73.5 511.2L74.9 493.2M74.9 493.2L68.8 493.0M65.8 513.1L64.9 512.4M64.8 523.3L65.8 513.1M82.3 514.8L73.5 511.2M88.3 499.8L79.1 491.4M79.1 491.4L74.9 493.2M77.7 474.9L82.6 481.3M82.6 481.3L79.1 491.4M90.8 479.4L96.5 466.5M90.8 479.4L96.2 482.5M96.2 482.5L108.9 480.8M106.7 467.6L96.5 466.5M106.7 467.6L109.2 480.2M109.2 480.2L108.9 480.8M95.6 465.2L96.5 466.5M82.6 481.3L90.8 479.4M98.5 495.1L96.2 482.5M111.7 494.3L108.9 480.8M111.9 462.8L106.7 467.6M124.0 477.3L109.2 480.2M85.1 301.2L84.4 301.9M74.5 302.1L76.4 304.0M84.4 301.9L76.4 304.0M95.3 309.1L87.0 312.2M84.4 301.9L87.0 312.2M415.9 499.3L416.2 492.6M415.9 499.3L411.8 501.9M406.7 499.9L406.6 492.9M406.7 499.9L411.8 501.9M406.6 492.9L411.5 487.8M411.5 487.8L416.2 492.6M423.2 501.3L415.9 499.3M423.2 501.3L420.6 517.0M412.8 514.7L411.8 501.9M405.2 500.4L401.4 509.6M405.2 500.4L406.7 499.9M400.1 490.0L406.6 492.9M400.1 490.0L401.0 482.5M411.1 483.8L411.5 487.8M421.7 483.4L422.9 489.6M422.9 489.6L416.2 492.6M432.3 502.4L434.2 494.8M432.3 502.4L423.2 501.3M423.2 501.3L425.6 491.1M434.2 494.8L429.2 490.7M429.2 490.7L425.6 491.1M432.9 503.4L432.3 502.4M441.2 491.7L434.2 494.8M423.2 501.3L423.2 501.3M422.9 489.6L425.6 491.1M432.2 482.2L429.2 490.7M514.5 328.2L526.7 326.0M514.5 328.2L511.7 324.4M511.7 324.4L517.1 314.4M526.8 325.8L525.5 316.2M526.8 325.8L526.7 326.0M525.5 316.2L517.1 314.4M527.2 338.5L526.7 326.0M512.3 338.3L514.5 328.2M502.8 322.5L511.7 324.4M514.8 311.7L517.1 314.4M528.9 312.6L525.5 316.2M540.2 326.2L526.8 325.8M551.2 232.1L552.3 223.3M555.0 223.0L552.3 223.3M545.9 223.4L549.1 222.8M552.3 223.3L551.8 223.0M385.5 493.3L385.2 502.3M385.5 493.3L394.1 493.3M396.3 498.3L392.7 503.7M396.3 498.3L395.4 494.2M392.7 503.7L385.2 502.3M395.4 494.2L394.1 493.3M383.2 490.9L385.5 493.3M381.8 504.0L385.2 502.3M390.6 482.4L394.1 493.3M405.2 500.4L396.3 498.3M394.5 509.4L392.7 503.7M400.1 490.0L395.4 494.2M354.4 503.1L363.9 501.6M354.4 503.1L357.7 516.8M363.9 501.6L363.8 515.6M363.8 515.6L357.8 516.9M357.7 516.8L357.8 516.9M371.3 516.5L363.8 515.6M364.8 500.4L363.9 501.6M356.6 531.7L357.8 516.9M344.8 516.1L357.7 516.8M352.5 492.2L355.7 494.8M352.5 492.2L344.7 493.8M355.7 494.8L353.6 502.3M353.6 502.3L342.9 502.1M342.9 502.1L344.7 493.8M353.1 483.6L352.5 492.2M362.9 493.0L355.7 494.8M342.7 489.7L344.7 493.8M354.4 503.1L353.6 502.3M341.7 503.2L342.9 502.1M94.6 400.1L99.5 399.2M94.6 400.1L87.7 394.5M99.5 399.2L103.7 386.4M87.7 394.5L87.3 387.5M103.7 386.4L91.9 380.1M87.3 387.5L91.9 380.1M89.6 412.2L94.6 400.1M110.4 404.8L99.5 399.2M80.7 396.9L87.7 394.5M107.8 384.4L103.7 386.4M79.6 384.7L87.3 387.5M91.6 377.7L91.9 380.1M72.5 312.1L75.9 308.1M72.5 312.1L72.7 319.2M75.9 308.1L85.0 315.2M72.7 319.2L79.5 324.1M79.5 324.1L84.9 320.2M84.9 320.2L85.0 315.2M66.4 310.6L72.5 312.1M76.4 304.0L75.9 308.1M62.7 321.9L72.7 319.2M87.0 312.2L85.0 315.2M77.9 332.8L79.5 324.1M92.5 322.6L84.9 320.2M535.0 197.6L541.5 196.3M536.4 207.9L543.6 206.1M543.6 206.1L541.5 196.3M542.0 193.9L541.9 195.9M541.5 196.3L541.9 195.9M541.9 195.9L542.2 196.0M552.1 205.0L551.0 203.8M552.1 205.0L552.5 211.7M551.0 203.8L544.6 206.4M544.6 206.4L546.4 214.1M549.9 215.0L549.6 215.3M546.4 214.1L549.6 215.3M554.6 205.4L552.1 205.0M551.1 202.6L551.0 203.8M543.6 206.1L544.6 206.4M540.8 216.7L546.4 214.1M549.8 216.2L549.6 215.3" fill="none" stroke="#000" stroke-width="1" shape-rendering="crispEdges"/>
</g>
<g fill="none" stroke="#000" stroke-linejoin="round" stroke-linecap="round">
<path d="M59.8 425.4 L119.2 427.5 L145.2 428.8" stroke-width="2.1"/>
<path d="M129.6 501.7 L189 502.7 L185.8 514.6 L186.9 520 L186.9 515.8 L191 530.4" stroke-width="2.1"/>
<path d="M175.4 359 L388 358.5" stroke-width="2.1"/>
<path d="M204.6 304.2 L242.5 304 L244 300.2 L403 299.4 L470 298.2 L492 294.2 L542 291.5 L565 288.3 L598.3 286.2" stroke-width="2.1"/>
<path d="M416.7 265.4 L379.2 299.8" stroke-width="2.1"/>
<path d="M431 299 L420 308 L400 322 L382 334 L363 344 L354 352 L352 358.5" stroke-width="2.1"/>
<path d="M240.3 359.5 L235.3 433.3 L229.5 504.2 L230 528.3" stroke-width="2.1"/>
<path d="M315.6 359 L333.3 450 L335.4 466.7 L332.3 483.3 L339.6 512.5 L339.6 514.8" stroke-width="2.1"/>
<path d="M262.5 526.2 L260.4 524.2 L258.3 511.7 L254.2 503.3 L333.3 504.4" stroke-width="2.1"/>
<path d="M339.6 514.8 L422.9 515.8 L427 522 L431.2 509.6 L445.8 507.5" stroke-width="2.1"/>
<path d="M388 358.5 L382.7 364.8 L398 380 L406.7 400 L416.7 402 L433.3 420.8 L443.8 437.5 L450 454 L459 468" stroke-width="2.1"/>
<path d="M388 358.5 L407 350 L452 351 L457 358.5 L492 358.3 L526.5 390.6" stroke-width="2.1"/>
<path d="M199.4 302.9 L197.4 308.2 L196.2 313.3 L195 317.6 L194.3 320.9 L193.1 325.8 L189.2 330.5 L186.9 334.2 L185 337.9 L183.8 342.5 L180.6 349.8 L178.8 354 L175.4 358.3 L173.9 362.4 L171.5 366.1 L169.2 370.8 L166.9 374.7 L164.2 377.9 L162 380.1 L159.6 384.3 L156.7 387.5 L153.9 390.9 L152.4 395.8 L149.4 400 L148.7 404.8 L147.6 409 L146.2 412.5 L146.7 417.1 L147.5 421.5 L148.3 425 L148.6 428.5 L147.1 432.9 L147.3 437.5 L149.3 441.6 L150.1 445.5 L151.2 449.8 L152.5 454.2 L150.2 458.5 L148.3 462.5 L145.8 466.8 L143.4 470.5 L141.1 474.2 L137.9 477.1 L136.1 480.7 L134.3 486.2 L132.3 489.7 L129.6 493.8 L129.6 501.7" stroke-width="2.8"/>
<path d="M199.4 302.9 L196.2 313.3 L193.1 325.8 L186.9 334.2 L183.8 342.5 L180.6 349.8 L175.4 358.3 L169.2 370.8 L156.7 387.5 L149.4 400 L146.2 412.5 L148.3 425 L147.3 437.5 L152.5 454.2 L148.3 462.5 L137.9 477.1 L129.6 493.8 L129.6 501.7" stroke-width="4.6" stroke-dasharray="3.5 4 2 5 4 3" stroke-linecap="butt"/>
<path d="M50.8 297.9 L182.7 304.2 L184.2 311.7 L176.5 322.7 L194.2 322.7 L196.2 313.3 L199.4 302.9 L206.7 299.8 L210.8 293.5 L209.8 285.2 L217.1 278.3 L228.5 282.1 L231.7 272.7 L241 267.5 L240 262.3 L246.2 254 L256.7 252.9 L262.5 254 L270.8 256 L279.2 252.9 L285.4 255 L291.7 244.6 L294.8 248.8 L304.2 248.8 L307.3 240.4 L317.7 234.2 L318.8 224.8 L332.3 220.6 L334.4 211.2 L345.8 210.2 L352.1 216.5 L353.1 220.6 L362.5 221.7 L370.8 224.8 L380.2 225.8 L388.5 222.7 L395.8 227.9 L399 236.2 L400 242.5 L406.2 252.9 L416.7 265.4 L419.8 269.6 L427.1 275.8 L433.3 274.8 L438.5 272.7 L450 267.5 L458.3 263.3 L466.7 259.2 L467.1 252.9 L475.4 242.5 L480.6 224.8 L484.8 222.7 L490 231 L499.4 212.3 L506.7 211.2 L515 199.8 L516 187.3 L529.6 195.6 L534.8 189.4 L542.1 192.5 L543.1 200.8 L554.6 202.9 L555.6 210.2 L550.4 213.3 L549.4 222.7 L557.7 222.7 L558.8 229 L565 230 L575.4 235.2 L582.7 238.3 L583.8 248.8 L583.8 257.1 L577.5 263.3 L585.8 271.7 L594.2 273.8 L600.4 288.3 L606.7 305 L615 317.5 L615.4 327.9 L609.9 336.8 L598.8 344.2 L589.6 351.5 L587.8 358.5 L569.2 359.4 L556.7 370.8 L548.3 379.2 L546.2 388.5 L527.5 391.7 L517.1 400 L510.8 410.4 L507.7 418.8 L498.3 429.2 L487.9 433.3 L475.4 445.8 L465 458.3 L458.8 468.8 L453.5 479.2 L450.4 495.8 L447.3 508.3 L445.8 507.5 L450 528.3 L458.3 549.2 L464.8 568.5 L475.6 590.1 L489.1 622.5 L497.2 646.8 L499.9 671 L498 686.6 L496.8 693.9 L491.9 701.3 L485.8 707.4 L474.8 712.3 L467.4 711.1 L465 706.2 L463.7 698.8 L458.8 691.5 L446.6 685.3 L443.3 676.4 L432.5 665.6 L429.8 654.8 L421.7 638.7 L410.9 625.2 L406.9 603.6 L410.9 584.7 L408.2 571.2 L408.3 574.2 L397.9 565.8 L387.5 557.5 L385.4 549.2 L375 540.8 L366.7 536.7 L356.2 540.8 L343.8 549.2 L333.3 553.3 L325 551.2 L322.9 540.8 L312.5 532.5 L300 526.2 L281.2 525.2 L262.5 526.2 L250 531.5 L240 531.5 L227.5 529.4 L212.9 526.2 L200.4 529.4 L206.7 532.5 L215 538.8 L217.1 542.9 L208.8 553.3 L204.6 561.7 L209.8 567.9 L206.7 574.2 L198.3 578.3 L185.8 561.7 L175.4 561.7 L171.2 572.1 L148.3 572.1 L137.9 561.7 L127.5 553.3 L123.3 546 L111.9 546 L110.8 550.2 L96.2 550.2 L75.4 544 L55.6 542.9 L57.7 536.7 L64 530.4 L64 513.8 L69.2 501.2 L68.1 488.8 L61.9 474.2 L56.7 458.3 L58.8 439.6 L59.8 425.4 L61.9 404.2 L47.3 402.1 L49.4 387.5 L51.5 362.5 L52.9 350Z M610.8 229 L600.4 232.1 L594.2 242.5 L591 259.2 L594.2 265.4 L600.4 255 L605.6 238.3Z" stroke-width="2"/>
</g>
<g fill="none" stroke="#1E90FF" stroke-width="2" stroke-linejoin="round" stroke-linecap="round">
<path d="M54.6 335.2 L58.1 336.8 L60.8 339.4 L64.9 338.5 L67.3 336.5 L71.2 336.2 L75 338.1 L76.8 338.8 L80.5 338.7 L83.8 340.4 L86 342.7 L89.7 343.2 L91.8 345.1 L94.2 347.7 L98.7 348.5 L102.5 350 L106.3 353 L108.8 354.2 L110.9 357.6 L112.6 358.4 L115.2 360.9 L116.6 364 L119.2 366.7 L120.2 369 L120 373.2 L121.3 376.2 L123.2 378.1 L123.3 381.2 L125.9 382.8 L128.8 384.5 L131.3 386.1 L133.8 387.5 L137.2 389.1 L138.9 391 L141.1 391.9 L144.2 393.8 L148.2 394.8 L150.4 395.8"/>
<path d="M61.9 404.2 L63.7 406.1 L65.2 409.9 L67.1 412.5 L66 416 L66.9 418.4 L66.7 422.5 L66.5 425.6 L66 429.2 L67.2 432.7 L66.9 434.6 L68.9 439.4 L69 441.6 L70.5 444.5 L71.2 447.9 L72.7 450.3 L74.5 453.6 L76.1 456 L78.7 458.2 L80.1 462.2 L81.7 464.6 L83.4 466.5 L86.4 469 L87.4 471.8 L90.4 473.6 L91.8 476.5 L94.2 479.2 L97.2 481.5 L99.6 483.3 L101 486.6 L104.4 488.6 L105.6 490.4 L108.5 492.9 L110.8 495.8 L114.8 495 L117.2 492.7 L121.2 491.7 L123.9 494.7 L126 497 L127.5 500 L128.5 497.1 L128.5 500.2 L130.4 503.6 L130.6 507.5 L134 509.5 L137.9 511.7 L138.8 514.7 L140.8 517.3 L140.2 521.8 L142.8 525 L143 528.1 L144.2 530.4 L147.3 532 L149.3 535.2 L151.5 536.7 L153.5 538.8 L157 537.8 L160.7 536.6 L165 536.7 L168.5 537.6 L172.2 538.4 L175.7 540.8 L179.1 542.4 L181.7 542.9 L181.4 546.2 L179.6 549.2 L181.3 551.7 L184.2 553 L187.7 555.5 L190 557.5 L192.3 560.4 L195.1 561.4 L196.9 564.4 L199.7 566.3 L201.9 567.4 L204.6 570"/>
<path d="M229.6 286.2 L233.8 287.8 L237.9 288.3 L238.7 291.6 L241.5 294.5 L242.1 296.7 L242.4 298.9 L241.8 303.6 L240.5 305.7 L241 309.2 L241.9 312.4 L243.5 315.4 L245.4 317.7 L246.2 321.7 L245.1 324.2 L245 327.2 L246.3 331.7 L245.2 334.2 L243.2 337.3 L242.3 340.1 L241 343.8 L240 346.7 L237.1 348.1 L233.8 350 L234.2 352.8 L235.8 356.2 L237.7 358.4 L241.4 360.2 L242.8 361.9 L246.2 364.6 L249.4 365.8 L253.6 366.5 L257.1 368 L260 368.8 L262.5 367.7 L265 369.3 L267.7 371.7 L270.2 373.5 L272.9 375 L276 374.5 L279.2 375.4 L281.5 374.9 L285.4 375 L288.4 378.1 L292.5 379.6 L294.8 382.3 L297.6 380.4 L298.5 377.4 L301 375 L302.7 373.5 L306 371.5 L308.6 369.1 L310.4 366.7 L311.9 363.2 L312.5 359.4 L315.9 358.5 L320.8 357.3 L323 354.2 L327.6 351.6 L330.2 350 L331 345.5 L333.3 342.5 L335.7 339.4 L335.8 338.1 L337.7 335.6 L340.3 333.1 L341.7 330 L346 330.1 L349.2 329.2 L352.1 330 L355.5 328.4 L358.3 326 L361.3 325.8 L363 323 L366.7 321.7 L369.3 320.2 L371.2 316.9 L373.7 315.6 L377.2 313.1 L379.2 311.2 L382.1 309.5 L385.2 308 L387.8 306.6 L391.7 305 L395.4 303.5 L397.8 301.8 L400.6 301.6 L403.1 299.8 L406.8 298.3 L409.9 296.9 L414 294.4 L416.7 293.5 L418.6 292.1 L422.6 289.9 L424.4 288.4 L427.1 286.2 L429.4 284.8 L432.3 284.3 L435.3 282.6 L438.5 282.1"/>
<path d="M241 286.2 L243.8 289.1 L245.5 290.8 L248.3 292.5 L248.1 296.3 L248.5 298.3 L247.8 301 L248.3 305 L251.4 306.9 L254.6 309.2"/>
<path d="M361.5 370.8 L361.4 374.7 L362.5 379.2 L359.1 381.2 L355.6 383.2 L353.1 384 L350 385.4 L346.5 387.4 L343.6 388.3 L339.6 389.6 L336.4 389.6 L334 388.7 L330.6 389.4 L327 387.7 L323.5 388.2 L320.8 387.5 L317.6 389 L314.5 388.4 L310.4 389.6 L307.1 391.9 L304.3 395.5 L302.1 397.9 L301.4 401.8 L298.9 404.8 L297.6 407.2 L297 409.7 L294.5 414.2 L293.8 416.7 L292.2 419.3 L291.4 422.8 L289.1 425.1 L288.6 428.3 L287.5 431.2 L288.7 434.1 L291.8 436.6 L292.8 438.9 L294 442.6 L295.5 445.8 L297.9 447.9 L295.5 449.3 L291.7 452.1 L288.8 452.4 L284.9 453.6 L280.4 454 L277.1 454.2 L274.6 457.5 L271.1 460.2 L268.8 462.5 L266.8 464.2 L263.3 464.6 L260.4 466.7 L259.7 469.9 L259.4 474 L258.3 477.1 L257.2 479.4 L256.1 483.2 L254 486.6 L253.6 488.1 L252.1 491.7"/>
<path d="M368.8 366.7 L372.7 369.2 L375 372.9 L373 375.8 L371.9 378 L370.3 380.3 L368 382.3 L366.7 385.4 L363.3 387.9 L361.9 389.7 L359.3 391.4 L356.2 393.8 L353.4 396 L352.1 397.7 L349.1 400.5 L347.2 403 L344 405.5 L342 408.5 L339.6 410.4 L337.2 413.6 L334.7 415.2 L332.6 417.5 L331.2 420.8 L331.4 424.7 L330 427.2 L330.2 431.2"/>
<path d="M260 470.8 L258.8 474.2 L258.4 477.2 L257 479.1 L255.5 482.2 L254.7 485.9 L253 488.3 L252.5 491.7 L250.2 492.9 L247.5 496.5 L244.2 497.9 L244.6 501.2 L243.6 505 L243.1 508.3 L242.6 512.1 L241.9 513.8 L241.4 517 L240 520 L241.7 517.3 L243.1 513.8"/>
<path d="M440 313.3 L442.1 312.9 L446.2 311.5 L449 310.6 L451.3 309.8 L454 308.9 L458.1 307.9 L460.8 307.1 L463.5 309.5 L466 310.2 L467 312.9 L467.1 317.2 L466 320.1 L467.1 323.8 L468.7 325.9 L471.3 330.4 L473 333.2 L475.8 334.7 L477.5 338.3 L478.8 342.4 L479.7 346.5 L479.6 350 L481.6 352.8 L483.3 357 L484.9 359.3 L485.8 362.5 L488 365.1 L488.7 367 L490.4 370 L492.3 373.2 L495.1 375.9 L496.4 378.8 L498.3 381.2 L499.8 383.6 L502.4 386 L503.2 389.3 L506 390.9 L507.2 393.6 L509.4 395.6 L510.2 398 L512.9 401"/>
<path d="M434.4 317.5 L438 315.4 L440.6 314 L443.2 312.5 L446.7 311.1 L450 310.2 L452.8 308.7 L456.7 308.6 L460.2 307 L464.6 307.1 L464.9 310.3 L465.8 313 L465.7 316.9 L465.4 321.3 L466.7 323.8"/>
<path d="M530.6 197.7 L527.8 199.3 L526 201.7 L524 204.3 L520.8 206.1 L519.2 209.2 L517.9 211.7 L516.4 215 L514.9 217.6 L512 220.5 L510.8 223.8 L510.3 227.1 L508.5 229.3 L508.1 233.9 L506.7 236.2 L503.7 237.4 L499.6 239.7 L497.3 242.5"/>
<path d="M339.6 516.9 L337.4 519.4 L335.6 523.9 L335.6 526.5 L333.3 530.4 L334.8 533.7 L335.1 537.8 L336 539.6 L335.5 544 L336.5 547.1"/>
<path d="M447.1 566.5 L450.7 571.3 L453.2 575.7 L458.3 576.1 L461.8 577.9 L462.9 581.5 L464.7 583.8 L467.9 588.2 L468.4 591.7 L470.3 595.6 L473.2 598.8 L474.3 602.9 L472.4 605.1"/>
</g>
<path d="M406 392.9 L408.6 395.4 L415.5 399.7 L418.9 403.2 L417.2 404.9 L413.8 404 L410.3 407.4 L408.6 405.7 L412 402.3 L407.8 398Z" fill="#1E90FF"/>
<path d="M585.6 305.6 L593.3 302.8 L600.7 301.5 L604.7 304.7 L602.5 307.1 L595.1 307.4 L588.2 309.6Z" fill="#fff" stroke="#000" stroke-width="1.6" stroke-linejoin="round"/>
<path d="M607.6 311.5 L613.2 317 L614.4 327.6 L609.5 335 L599.2 342.7 L590 350.1 L588.2 357.1 L586 355.2 L586.3 345.1 L584.1 342.7 L588.2 338.7 L595.1 335.4 L598.5 330.4 L603.4 327.6 L606.5 320.3 L604.7 313.3Z" fill="#fff" stroke="#000" stroke-width="1.6" stroke-linejoin="round"/>
<path d="M574.9 324 L582.3 327.6 L588.2 327.6" fill="none" stroke="#000" stroke-width="3.2" stroke-linejoin="round" stroke-linecap="round"/>
<path d="M571.2 336.8 L579.5 338.7 L585 342.4" fill="none" stroke="#000" stroke-width="3.5" stroke-linejoin="round" stroke-linecap="round"/>
<path d="M576.8 320.3 L583.2 322.1" fill="none" stroke="#000" stroke-width="2.5" stroke-linejoin="round" stroke-linecap="round"/>
<path d="M579.5 307.4 L586 305.6" fill="none" stroke="#000" stroke-width="2.5" stroke-linejoin="round" stroke-linecap="round"/>
<path d="M574.9 296.4 L581.4 298.2 L586 296.4" fill="none" stroke="#000" stroke-width="2.2" stroke-linejoin="round" stroke-linecap="round"/>
<path d="M558.4 226.5 L569.4 230.6 L580.8 237.9 L583.2 244.9" fill="none" stroke="#000" stroke-width="3.2" stroke-linejoin="round" stroke-linecap="round"/>
<path d="M563.9 239.4 L574.9 246.8 L582.6 256.3" fill="none" stroke="#000" stroke-width="3" stroke-linejoin="round" stroke-linecap="round"/>
<path d="M551 251.4 L567.6 258.2 L576.8 265.1 L584.5 271.6" fill="none" stroke="#000" stroke-width="2.8" stroke-linejoin="round" stroke-linecap="round"/>
<path d="M551 265.1 L562.1 268.5 L573.1 267 L580.8 273.4" fill="none" stroke="#000" stroke-width="2.2" stroke-linejoin="round" stroke-linecap="round"/>
<path d="M567.6 233.9 L576.8 242.2" fill="none" stroke="#000" stroke-width="2.5" stroke-linejoin="round" stroke-linecap="round"/>
<path d="M562.1 256 L569.4 262.4" fill="none" stroke="#000" stroke-width="2.2" stroke-linejoin="round" stroke-linecap="round"/>
<path d="M407.7 610.3 L420.3 608.5 L423.6 614.4 L418.2 619.8 L422.2 626.5 L414.1 628.4 L409.3 623 L410.9 615.7Z" fill="#000"/>
<path d="M412.3 613 L417.6 611.7 L415.8 617.6 L413.1 619.2Z" fill="#fff"/>
<path d="M427.1 645.4 L435.7 643.5 L434.6 652.1 L441.1 654.8 L438.4 666.2 L432.5 664.6 L429.2 654.8Z" fill="#000"/>
<path d="M429.8 648.9 L433 647.8 L432.5 654.8 L430.3 654.8Z" fill="#fff"/>
<path d="M409 733.1 L410.9 733.1" fill="none" stroke="#000" stroke-width="2.2" stroke-linejoin="round"/>
<path d="M433.8 734.4 L440.6 734.7 L448.7 730.9 L462.1 726.6 L470.2 727.1 L477 723.6 L481.6 719.6" fill="none" stroke="#000" stroke-width="3" stroke-linejoin="round" stroke-dasharray="4 2.5 2 2 5 3"/>
<path d="M448.7 729 L462.1 725.5" fill="none" stroke="#000" stroke-width="4.5" stroke-linejoin="round" stroke-dasharray="6 3"/>
<path d="M465 706.8 L467.6 711.3 L474.8 712.5 L485.8 707.6 L491.9 701.5 L496.8 694.2 L498 686.6" fill="none" stroke="#000" stroke-width="3.2" stroke-linejoin="round" stroke-dasharray="5 2"/>
<path d="M478.4 715 L485.8 710.5 L491.7 705" fill="none" stroke="#000" stroke-width="2.6" stroke-linejoin="round" stroke-dasharray="3 3"/>
<path d="M468.6 714.8 L472.3 714.3" fill="none" stroke="#000" stroke-width="2.5" stroke-linejoin="round"/>
<path d="M197.5 532.7 L200.9 528.2 L210 530.5 L206.6 536.1 L204.9 544.1 L203.2 548.6 L197.5 552 L194.7 555.5 L194.1 560 L189.5 560.6 L188.4 557.7 L183.9 554.3 L185 549.8 L189.5 549.2 L194.1 544.1 L195.8 538.4Z" fill="#000"/>
<path d="M191.8 562.3 L197.5 563.4 L203.2 561.7 L207.7 564.5 L211.1 569.1 L208.9 573.6 L206.6 577 L204.3 574.8 L200.9 575.9 L197.5 579.3 L196.4 577 L199.2 573.1 L195.2 569.1 L191.8 565.7Z" fill="#000"/>
<path d="M194.1 564.3 L199.8 565.7 L203.8 570.2 L200.9 570.8 L197.5 567.4Z" fill="#fff"/>
<path d="M135.6 561.7 L139.5 560 L144.1 561.7 L148.6 560 L153.2 565.7 L157.7 563.4 L163.4 561.1 L169.1 564.5 L171.9 569.1 L173.6 564.5 L173.6 560 L171.9 555.5 L175.9 553.8 L180.5 557.7 L183.9 560 L188.4 560 L182.7 565.7 L178.2 566.8 L171.9 573.1 L148.6 573.6 L149.2 571.4 L144.1 568 L138.4 564.5Z" fill="#000"/>
<path d="M160.9 567.7 L163.2 567.7 L163.2 570.8 L160.9 570.8Z" fill="#fff"/>
<path d="M110 546.4 L116.8 547.5 L121.4 544.1 L128.2 546.4 L130.5 548.6 L127 549.8 L122.5 548.6 L120.2 552 L123.6 554.3 L119.1 555.5 L115.7 553.2 L110 552" fill="none" stroke="#000" stroke-width="2.2" stroke-linejoin="round"/>
<path d="M130.5 548.6 L132.7 554.3 L135.6 561.7" fill="none" stroke="#000" stroke-width="2.4" stroke-linejoin="round"/>
<path d="M216.8 538.4 L217.4 544.1 L214.5 548.6 L211.1 553.2 L204.3 558.9" fill="none" stroke="#000" stroke-width="2.4" stroke-linejoin="round" stroke-dasharray="5 2 8 3"/>
<path d="M210 531 L215.7 530.5" fill="none" stroke="#000" stroke-width="2.2" stroke-linejoin="round"/>
<path d="M200.4 529.4 L212.9 526.2 L227.5 529.4 L240 531.5 L260 530.4" fill="none" stroke="#000" stroke-width="3.2" stroke-linejoin="round" stroke-dasharray="6 1.5"/>
<path d="M250 531.5 L262.5 526.2 L281.2 525.2 L300 526.2 L312.5 532.5 L322.9 540.8 L325 551.2 L333.3 553.3 L343.8 549.2 L356.2 540.8" fill="none" stroke="#000" stroke-width="3" stroke-linejoin="round" stroke-dasharray="8 2"/>
<path d="M385.4 549.2 L387.5 557.5 L397.9 565.8 L408.3 574.2 L410.4 586.7" fill="none" stroke="#000" stroke-width="3" stroke-linejoin="round" stroke-dasharray="6 2"/>
<path d="M239 517.9 L243.1 512.7 L246.2 519 L248.3 530.4 L240 530.8 L242.1 523.1Z" fill="#000"/>
<path d="M242.5 518.3 L244.2 517.5 L245.2 526.2 L243.1 526.2Z" fill="#fff"/>
<path d="M527.5 391.7 L517.1 400 L510.8 410.4 L507.7 418.8 L498.3 429.2 L487.9 433.3 L475.4 445.8 L465 458.3 L458.8 468.8 L453.5 479.2 L450.4 495.8 L447.3 508.3 L448.3 520" fill="none" stroke="#000" stroke-width="4.2" stroke-linejoin="round" stroke-dasharray="5 2.5 3 2"/>
<path d="M502.5 422.9 L508.8 412.5" fill="none" stroke="#000" stroke-width="6" stroke-linejoin="round" stroke-dasharray="4 3"/>
<path d="M473.3 441.7 L487.9 432.3" fill="none" stroke="#000" stroke-width="6" stroke-linejoin="round" stroke-dasharray="5 3"/>
<path d="M460.8 458.3 L471.2 447.9" fill="none" stroke="#000" stroke-width="6.5" stroke-linejoin="round" stroke-dasharray="5 2"/>
<path d="M452.5 479.2 L459.8 466.7" fill="none" stroke="#000" stroke-width="6" stroke-linejoin="round" stroke-dasharray="4 2"/>
<path d="M456.2 470 L450 486.7 L445.8 507.5" fill="none" stroke="#000" stroke-width="5" stroke-linejoin="round" stroke-dasharray="5 2"/>
<path d="M445.8 507.5 L450 528.3 L458.3 549.2" fill="none" stroke="#000" stroke-width="3.5" stroke-linejoin="round" stroke-dasharray="8 3"/>
<path d="M594.2 350 L585.8 358.3 L569.2 359.4 L556.7 370.8 L548.3 379.2 L546.2 388.5" fill="none" stroke="#000" stroke-width="3" stroke-linejoin="round" stroke-dasharray="7 2"/>
<path d="M610.8 229 L600.4 232.1 L594.2 242.5 L591 259.2 L594.2 265.4 L600.4 255 L605.6 238.3 L610.8 229" fill="none" stroke="#000" stroke-width="2.6" stroke-linejoin="round"/>
<path d="M600.4 232.5 L589 238.8" fill="none" stroke="#000" stroke-width="2.5" stroke-linejoin="round"/>
<path d="M440 520.6 L439.4 529.4 L441.9 538.2 L441.5 548.5 L444.1 557.4 L445.9 564.7" fill="none" stroke="#000" stroke-width="3.2" stroke-linejoin="round"/>
<path d="M444.1 523.5 L444.1 533.8 L446.8 544.1" fill="none" stroke="#000" stroke-width="2" stroke-linejoin="round"/>
<path d="M469.1 580.1 L474.3 578.7 L478.7 585.3 L480.1 591.9 L476.5 595.6 L473.5 592.6 L470.6 586.8Z" fill="#000"/>
<path d="M473.2 583.1 L474.7 584.1 L474.3 586.8Z" fill="#fff"/>
<path d="M475.3 588.2 L476.8 589 L475.7 591.5Z" fill="#fff"/>
<path d="M450 522.1 L455.9 544.1 L459.6 557.4" fill="none" stroke="#000" stroke-width="3.4" stroke-linejoin="round"/>
<path d="M189 502.7 L229 504 L254.2 503.3" fill="none" stroke="#000" stroke-width="1" stroke-linejoin="round"/>
<text x="198.8" y="52.8" font-size="25.5" class="b i" textLength="265.6" lengthAdjust="spacing">U.S. Drought Monitor</text>
<text x="34" y="101.9" font-size="40" class="b" textLength="594" lengthAdjust="spacing">USDA Southeast Climate Hub</text>
<text x="732.7" y="56.3" font-size="25.5" class="b" textLength="234.4" lengthAdjust="spacing">December 11, 2007</text>
<text x="717.6" y="80.7" font-size="15.5" class="b i" textLength="265.1" lengthAdjust="spacing">(Released Thursday, Dec. 13, 2007)</text>
<text x="789.5" y="103.7" font-size="15.7" class="b" textLength="122.1" lengthAdjust="spacing">Valid 7 a.m. EST</text>
<text x="784.7" y="137.5" font-size="14" class="i" textLength="219.3" lengthAdjust="spacing">Drought Conditions (Percent Area)</text>
<rect x="768" y="146.5" width="42.7" height="25.5" fill="#fff"/>
<rect x="810.7" y="146.5" width="43.4" height="25.5" fill="#FFFF00"/>
<rect x="854.1" y="146.5" width="43.2" height="25.5" fill="#FCD37F"/>
<rect x="897.3" y="146.5" width="43.4" height="25.5" fill="#FFAA00"/>
<rect x="940.7" y="146.5" width="43.6" height="25.5" fill="#E60000"/>
<rect x="984.3" y="146.5" width="42.7" height="25.5" fill="#730000"/>
<g stroke="#000" fill="none">
<line x1="810.7" y1="146.5" x2="810.7" y2="431.5" stroke-width="1.2"/>
<line x1="854.1" y1="146.5" x2="854.1" y2="431.5" stroke-width="1.2"/>
<line x1="897.3" y1="146.5" x2="897.3" y2="431.5" stroke-width="1.2"/>
<line x1="940.7" y1="146.5" x2="940.7" y2="431.5" stroke-width="1.2"/>
<line x1="984.3" y1="146.5" x2="984.3" y2="431.5" stroke-width="1.2"/>
<line x1="672.5" y1="215.4" x2="1027" y2="215.4" stroke-width="1.2"/>
<line x1="672.5" y1="258.5" x2="1027" y2="258.5" stroke-width="1.2"/>
<line x1="672.5" y1="302.2" x2="1027" y2="302.2" stroke-width="1.2"/>
<line x1="672.5" y1="345.5" x2="1027" y2="345.5" stroke-width="1.2"/>
<line x1="672.5" y1="388.6" x2="1027" y2="388.6" stroke-width="1.2"/>
<path d="M768 146.8H1027V431.5H672.7V172H1027M768 146.8V431.5" stroke-width="2"/>
</g>
<text x="789.35" y="164" font-size="11.5" text-anchor="middle" textLength="27.8" lengthAdjust="spacing">None</text>
<text x="832.4" y="164" font-size="11.5" text-anchor="middle" textLength="34" lengthAdjust="spacing">D0-D4</text>
<text x="875.7" y="164" font-size="11.5" text-anchor="middle" textLength="34" lengthAdjust="spacing">D1-D4</text>
<text x="919" y="164" font-size="11.5" text-anchor="middle" textLength="34" lengthAdjust="spacing">D2-D4</text>
<text x="962.5" y="164" font-size="11.5" text-anchor="middle" textLength="34" lengthAdjust="spacing" style="fill:#fff">D3-D4</text>
<text x="1005.65" y="164" font-size="11.5" text-anchor="middle" textLength="14" lengthAdjust="spacing" style="fill:#fff">D4</text>
<text x="789.35" y="198.4" font-size="11.3" text-anchor="middle" textLength="28.8" lengthAdjust="spacing">31.86</text>
<text x="832.4" y="198.4" font-size="11.3" text-anchor="middle" textLength="28.8" lengthAdjust="spacing">68.14</text>
<text x="875.7" y="198.4" font-size="11.3" text-anchor="middle" textLength="28.8" lengthAdjust="spacing">52.70</text>
<text x="919" y="198.4" font-size="11.3" text-anchor="middle" textLength="28.8" lengthAdjust="spacing">40.84</text>
<text x="962.5" y="198.4" font-size="11.3" text-anchor="middle" textLength="28.8" lengthAdjust="spacing">30.81</text>
<text x="1005.65" y="198.4" font-size="11.3" text-anchor="middle" textLength="28.8" lengthAdjust="spacing">21.81</text>
<text x="789.35" y="241.65" font-size="11.3" text-anchor="middle" textLength="28.8" lengthAdjust="spacing">31.46</text>
<text x="832.4" y="241.65" font-size="11.3" text-anchor="middle" textLength="28.8" lengthAdjust="spacing">68.54</text>
<text x="875.7" y="241.65" font-size="11.3" text-anchor="middle" textLength="28.8" lengthAdjust="spacing">52.14</text>
<text x="919" y="241.65" font-size="11.3" text-anchor="middle" textLength="28.8" lengthAdjust="spacing">39.04</text>
<text x="962.5" y="241.65" font-size="11.3" text-anchor="middle" textLength="28.8" lengthAdjust="spacing">29.27</text>
<text x="1005.65" y="241.65" font-size="11.3" text-anchor="middle" textLength="28.8" lengthAdjust="spacing">18.85</text>
<text x="789.35" y="285.05" font-size="11.3" text-anchor="middle" textLength="28.8" lengthAdjust="spacing">16.31</text>
<text x="832.4" y="285.05" font-size="11.3" text-anchor="middle" textLength="28.8" lengthAdjust="spacing">83.69</text>
<text x="875.7" y="285.05" font-size="11.3" text-anchor="middle" textLength="28.8" lengthAdjust="spacing">67.74</text>
<text x="919" y="285.05" font-size="11.3" text-anchor="middle" textLength="28.8" lengthAdjust="spacing">53.41</text>
<text x="962.5" y="285.05" font-size="11.3" text-anchor="middle" textLength="28.8" lengthAdjust="spacing">39.20</text>
<text x="1005.65" y="285.05" font-size="11.3" text-anchor="middle" textLength="28.8" lengthAdjust="spacing">16.43</text>
<text x="789.35" y="328.55" font-size="11.3" text-anchor="middle" textLength="28.8" lengthAdjust="spacing">56.84</text>
<text x="832.4" y="328.55" font-size="11.3" text-anchor="middle" textLength="28.8" lengthAdjust="spacing">43.16</text>
<text x="875.7" y="328.55" font-size="11.3" text-anchor="middle" textLength="22.4" lengthAdjust="spacing">6.51</text>
<text x="919" y="328.55" font-size="11.3" text-anchor="middle" textLength="22.4" lengthAdjust="spacing">0.81</text>
<text x="962.5" y="328.55" font-size="11.3" text-anchor="middle" textLength="22.4" lengthAdjust="spacing">0.00</text>
<text x="1005.65" y="328.55" font-size="11.3" text-anchor="middle" textLength="22.4" lengthAdjust="spacing">0.00</text>
<text x="789.35" y="371.75" font-size="11.3" text-anchor="middle" textLength="28.8" lengthAdjust="spacing">22.58</text>
<text x="832.4" y="371.75" font-size="11.3" text-anchor="middle" textLength="28.8" lengthAdjust="spacing">77.42</text>
<text x="875.7" y="371.75" font-size="11.3" text-anchor="middle" textLength="28.8" lengthAdjust="spacing">63.79</text>
<text x="919" y="371.75" font-size="11.3" text-anchor="middle" textLength="28.8" lengthAdjust="spacing">50.83</text>
<text x="962.5" y="371.75" font-size="11.3" text-anchor="middle" textLength="28.8" lengthAdjust="spacing">37.07</text>
<text x="1005.65" y="371.75" font-size="11.3" text-anchor="middle" textLength="28.8" lengthAdjust="spacing">13.24</text>
<text x="789.35" y="414.75" font-size="11.3" text-anchor="middle" textLength="28.8" lengthAdjust="spacing">76.01</text>
<text x="832.4" y="414.75" font-size="11.3" text-anchor="middle" textLength="28.8" lengthAdjust="spacing">23.99</text>
<text x="875.7" y="414.75" font-size="11.3" text-anchor="middle" textLength="22.4" lengthAdjust="spacing">5.86</text>
<text x="919" y="414.75" font-size="11.3" text-anchor="middle" textLength="22.4" lengthAdjust="spacing">0.92</text>
<text x="962.5" y="414.75" font-size="11.3" text-anchor="middle" textLength="22.4" lengthAdjust="spacing">0.00</text>
<text x="1005.65" y="414.75" font-size="11.3" text-anchor="middle" textLength="22.4" lengthAdjust="spacing">0.00</text>
<text x="718.7" y="197.5" font-size="11.7" class="b" text-anchor="middle" textLength="43.6" lengthAdjust="spacing">Current</text>
<text x="718.7" y="234.3" font-size="11.7" class="b" text-anchor="middle" textLength="58" lengthAdjust="spacing">Last Week</text>
<text x="718.7" y="248.5" font-size="9" class="i" text-anchor="middle" textLength="46" lengthAdjust="spacing">12-04-2007</text>
<text x="718.7" y="278.3" font-size="11.7" class="b" text-anchor="middle" textLength="77" lengthAdjust="spacing">3 Months Ago</text>
<text x="718.7" y="292.5" font-size="9" class="i" text-anchor="middle" textLength="46" lengthAdjust="spacing">09-11-2007</text>
<text x="718.7" y="315.6" font-size="11.7" class="b" text-anchor="middle" textLength="40" lengthAdjust="spacing">Start of</text>
<text x="718.7" y="329.8" font-size="11.7" class="b" text-anchor="middle" textLength="79.9" lengthAdjust="spacing">Calendar Year</text>
<text x="718.7" y="339.8" font-size="9" class="i" text-anchor="middle" textLength="46.4" lengthAdjust="spacing">01-02-2007</text>
<text x="718.7" y="358.6" font-size="11.7" class="b" text-anchor="middle" textLength="40" lengthAdjust="spacing">Start of</text>
<text x="718.7" y="372.8" font-size="11.7" class="b" text-anchor="middle" textLength="60" lengthAdjust="spacing">Water Year</text>
<text x="718.7" y="384.5" font-size="9" class="i" text-anchor="middle" textLength="46.4" lengthAdjust="spacing">09-25-2007</text>
<text x="718.7" y="408.9" font-size="11.7" class="b" text-anchor="middle" textLength="77" lengthAdjust="spacing">One Year Ago</text>
<text x="718.7" y="422.6" font-size="9" class="i" text-anchor="middle" textLength="46.4" lengthAdjust="spacing">12-12-2006</text>
<text x="672.2" y="460.2" font-size="16" class="i" textLength="63.3" lengthAdjust="spacing">Intensity:</text>
<line x1="672" y1="463" x2="736" y2="463" stroke="#000" stroke-width="1"/>
<rect x="672.5" y="470.5" width="33" height="16.5" fill="#fff" stroke="#6e6e6e" stroke-width="1"/>
<text x="711.4" y="483.9" font-size="13.2">None</text>
<rect x="854.5" y="470.5" width="33" height="16.5" fill="#FFAA00" stroke="#6e6e6e" stroke-width="1"/>
<text x="892.4" y="483.9" font-size="13.2" textLength="113" lengthAdjust="spacing">D2 Severe Drought</text>
<rect x="672.5" y="495.5" width="33" height="16.5" fill="#FFFF00" stroke="#6e6e6e" stroke-width="1"/>
<text x="711.4" y="508.5" font-size="13.2" textLength="110.2" lengthAdjust="spacing">D0 Abnormally Dry</text>
<rect x="854.5" y="495.5" width="33" height="16.5" fill="#E60000" stroke="#6e6e6e" stroke-width="1"/>
<text x="892.4" y="508.5" font-size="13.2" textLength="120" lengthAdjust="spacing">D3 Extreme Drought</text>
<rect x="672.5" y="520.5" width="33" height="16.5" fill="#FCD37F" stroke="#6e6e6e" stroke-width="1"/>
<text x="711.4" y="533.1" font-size="13.2" textLength="126.9" lengthAdjust="spacing">D1 Moderate Drought</text>
<rect x="854.5" y="520.5" width="33" height="16.5" fill="#730000" stroke="#6e6e6e" stroke-width="1"/>
<text x="892.4" y="533.1" font-size="13.2" textLength="140.2" lengthAdjust="spacing">D4 Exceptional Drought</text>
<text x="672.6" y="564.5" font-size="12" class="i" textLength="310" lengthAdjust="spacing">The Drought Monitor focuses on broad-scale conditions.</text>
<text x="672.6" y="579.1" font-size="12" class="i" textLength="304" lengthAdjust="spacing">Local conditions may vary. For more information on the</text>
<text x="672.6" y="593.7" font-size="12" class="i" textLength="358.6" lengthAdjust="spacing">Drought Monitor, go to https://droughtmonitor.unl.edu/About.aspx</text>
<text x="672.4" y="629.3" font-size="16" class="i" textLength="50" lengthAdjust="spacing">Author:</text>
<line x1="672" y1="632.5" x2="723" y2="632.5" stroke="#000" stroke-width="1"/>
<text x="672.6" y="649.7" font-size="13.5" textLength="75.7" lengthAdjust="spacing">Brian Fuchs</text>
<text x="672.6" y="668.7" font-size="13.5" textLength="224.4" lengthAdjust="spacing">National Drought Mitigation Center</text>
<text x="735" y="786" font-size="19.5" class="b" textLength="238" lengthAdjust="spacing">droughtmonitor.unl.edu</text>
<g>
<text x="672.4" y="722.4" font-size="26" textLength="62" lengthAdjust="spacingAndGlyphs" style="font-family:'Liberation Serif',serif;fill:#1c2f6e;stroke:#1c2f6e;stroke-width:0.55">USDA</text>
<rect x="672.9" y="725.6" width="62" height="21.8" fill="#12573f"/>
<path d="M672.86 728.33 L688.15 727.68 L712.31 728 L734.85 729.13 L734.85 730.26 L712.31 728.97 L688.15 728.97 L672.86 729.94Z" fill="#fff"/>
<path d="M672.86 732.51 L688.15 731.22 L712.31 729.77 L734.85 729.29 L734.85 730.58 L712.31 732.19 L696.21 734.44 L680.1 737.34 L672.86 739.28 L672.86 736.7 L681.71 734.44 L696.21 732.19 L680.1 733.8 L672.86 734.77Z" fill="#fff"/>
</g>
<g>
<defs><path id="nd1" d="M767.82 732.13 A28.5 28.5 0 1 1 823.58 732.13"/><path id="nd2" d="M763.4000000000001 726.2 A32.3 32.3 0 0 0 828.0 726.2"/></defs>
<text font-size="5.3" style="font-weight:bold;fill:#2b2b2b;stroke:#2b2b2b;stroke-width:0.25"><textPath href="#nd1" startOffset="50%" text-anchor="middle" textLength="98" lengthAdjust="spacingAndGlyphs">NATIONAL DROUGHT MITIGATION CENTER</textPath></text>
<text font-size="4.8" style="font-weight:bold;fill:#2b2b2b;stroke:#2b2b2b;stroke-width:0.2"><textPath href="#nd2" startOffset="50%" text-anchor="middle" textLength="70" lengthAdjust="spacingAndGlyphs">UNIVERSITY OF NEBRASKA</textPath></text>
<circle cx="766.4000000000001" cy="735.8000000000001" r="0.9" fill="#2b2b2b"/><circle cx="825.0" cy="735.8000000000001" r="0.9" fill="#2b2b2b"/>
<clipPath id="ndmc"><circle cx="795.7" cy="726.2" r="26.5"/></clipPath>
<g clip-path="url(#ndmc)"><rect x="767.7" y="698.2" width="56" height="56" fill="#3d5a2a"/>
<path d="M777.16 745.56 L785.1 741.15 L791.27 741.15 L797.45 743.79 L803.62 743.79 L810.67 739.38 L823.02 735.86 L823.02 760.55 L768.35 760.55Z" fill="#3a281d"/>
<path d="M768.35 733.65 L779.81 736.03 L788.63 732.5 L797.45 738.32 L802.74 740.44 L810.67 736.91 L823.02 735.41 L823.02 736.74 L810.67 739.56 L803.62 743.97 L797.45 743.97 L791.27 741.32 L785.1 741.32 L778.05 745.56 L773.64 742.91 L768.35 735.86Z" fill="#5b6fc6"/>
<path d="M768.35 733.65 L779.81 735.86 L788.63 732.33 L797.45 738.06 L802.74 740.26 L810.67 736.74 L823.02 735.15" fill="none" stroke="#fff" stroke-width="0.8"/>
<path d="M790.39 742.03 L793.04 748.2 L801.86 751.73M793.04 748.2 L785.1 751.73M805.38 743.79 L808.03 747.32 L805.38 751.73M808.03 747.32 L815.96 742.91M779.81 746.44 L786.86 748.2" fill="none" stroke="#fff" stroke-width="0.9"/>
</g>
<text x="796.3000000000001" y="728.9" font-size="19" text-anchor="middle" textLength="40.5" lengthAdjust="spacingAndGlyphs" style="font-weight:bold;fill:#fff;stroke:#fff;stroke-width:0.7">NDMC</text>
</g>
<g>
<circle cx="887" cy="726.1" r="28.7" fill="#fff" stroke="#2a8fdc" stroke-width="6"/>
<circle cx="887" cy="726.1" r="31.8" fill="none" stroke="#1b3a8a" stroke-width="0.8"/>
<circle cx="887" cy="726.1" r="25.5" fill="none" stroke="#1b3a8a" stroke-width="0.8"/>
<defs><path id="dc1" d="M860.3 726.1 A26.7 26.7 0 0 1 913.7 726.1"/><path id="dc2" d="M856.3 726.1 A30.7 30.7 0 0 0 917.7 726.1"/></defs>
<text font-size="5.1" style="font-weight:bold;fill:#fff;stroke:#fff;stroke-width:0.2"><textPath href="#dc1" startOffset="50%" text-anchor="middle" textLength="73" lengthAdjust="spacing">DEPARTMENT OF COMMERCE</textPath></text>
<text font-size="5.1" style="font-weight:bold;fill:#fff;stroke:#fff;stroke-width:0.2"><textPath href="#dc2" startOffset="50%" text-anchor="middle" textLength="80" lengthAdjust="spacing">UNITED STATES OF AMERICA</textPath></text>
<rect x="857.4" y="725.2" width="1.8" height="1.8" fill="#fff"/><rect x="914.8" y="725.2" width="1.8" height="1.8" fill="#fff"/>
<path d="M873.37 721.04 L900.71 721.04 L898.94 723.95 L898.94 739.38 L895.86 743.79 L887.04 747.32 L878.22 743.79 L875.13 739.38 L875.13 723.95Z" fill="#f1c548" stroke="#16224f" stroke-width="0.7"/>
<path d="M875.57 721.39 L898.5 721.39 L898.5 732.5 L875.57 732.5Z" fill="#3d9adb"/>
<path d="M876.46 727.92 L879.98 725.71 L885.27 723.51 L888.8 722.19 L891.45 723.51 L894.09 726.16 L896.74 729.24 L892.33 730.12 L888.8 731.45 L883.51 730.74 L879.98 729.68Z" fill="#15151f"/>
<path d="M885.27 725.27 L887.04 723.95 L887.92 728.8 L886.16 729.24ZM890.56 724.83 L892.33 725.27 L893.21 729.24 L891.45 729.51Z" fill="#fff"/>
<path d="M887.04 733.21 L887.04 746.44" fill="none" stroke="#15151f" stroke-width="1.6"/>
<path d="M884.39 743.79 L889.68 743.79 L887.04 747.32Z" fill="#15151f"/>
<path d="M879.1 705.87 L883.51 708.52 L886.6 711.6 L889.68 708.96 L895.86 705.17 L894.53 708.96 L891.45 712.49 L890.12 715.57 L889.68 718.22 L885.27 718.22 L884.83 715.13 L881.75 711.6Z" fill="#ecbb2e" stroke="#3a3010" stroke-width="0.45"/>
<path d="M881.75 718.66 L893.21 718.66" fill="none" stroke="#16224f" stroke-width="0.8"/>
</g>
<g>
<clipPath id="noaa"><circle cx="978.5" cy="726.2" r="31.4"/></clipPath>
<g clip-path="url(#noaa)"><rect x="946.5" y="694.2" width="64" height="64" fill="#0a8bd6"/>
<path d="M945.48 716.57 L953.53 705.3 L960.77 712.54 L967.21 720.6 L975.27 728.65 L981.71 731.55 L988.15 727.84 L994.59 718.99 L1002.64 705.3 L1010.69 710.13 L1002.64 721.4 L996.2 728.33 L992.17 732.51 L984.93 735.09 L976.88 738.31 L969.63 739.44 L968.5 737.67 L973.66 736.7 L964.8 733.8 L955.14 727.84 L948.21 721.4Z" fill="#fff"/>
<path d="M952.72 693.22 L1004.25 693.22 L1002.96 706.1 L994.91 718.66 L988.47 727.36 L981.71 730.9 L975.59 728 L967.54 719.95 L961.1 711.9 L953.2 705.62Z" fill="#0b1f8f"/>
</g>
<text x="978.8" y="715" font-size="11" text-anchor="middle" textLength="26.5" lengthAdjust="spacingAndGlyphs" style="font-weight:bold;fill:#fff">NOAA</text>
</g>
</svg></body></html>
